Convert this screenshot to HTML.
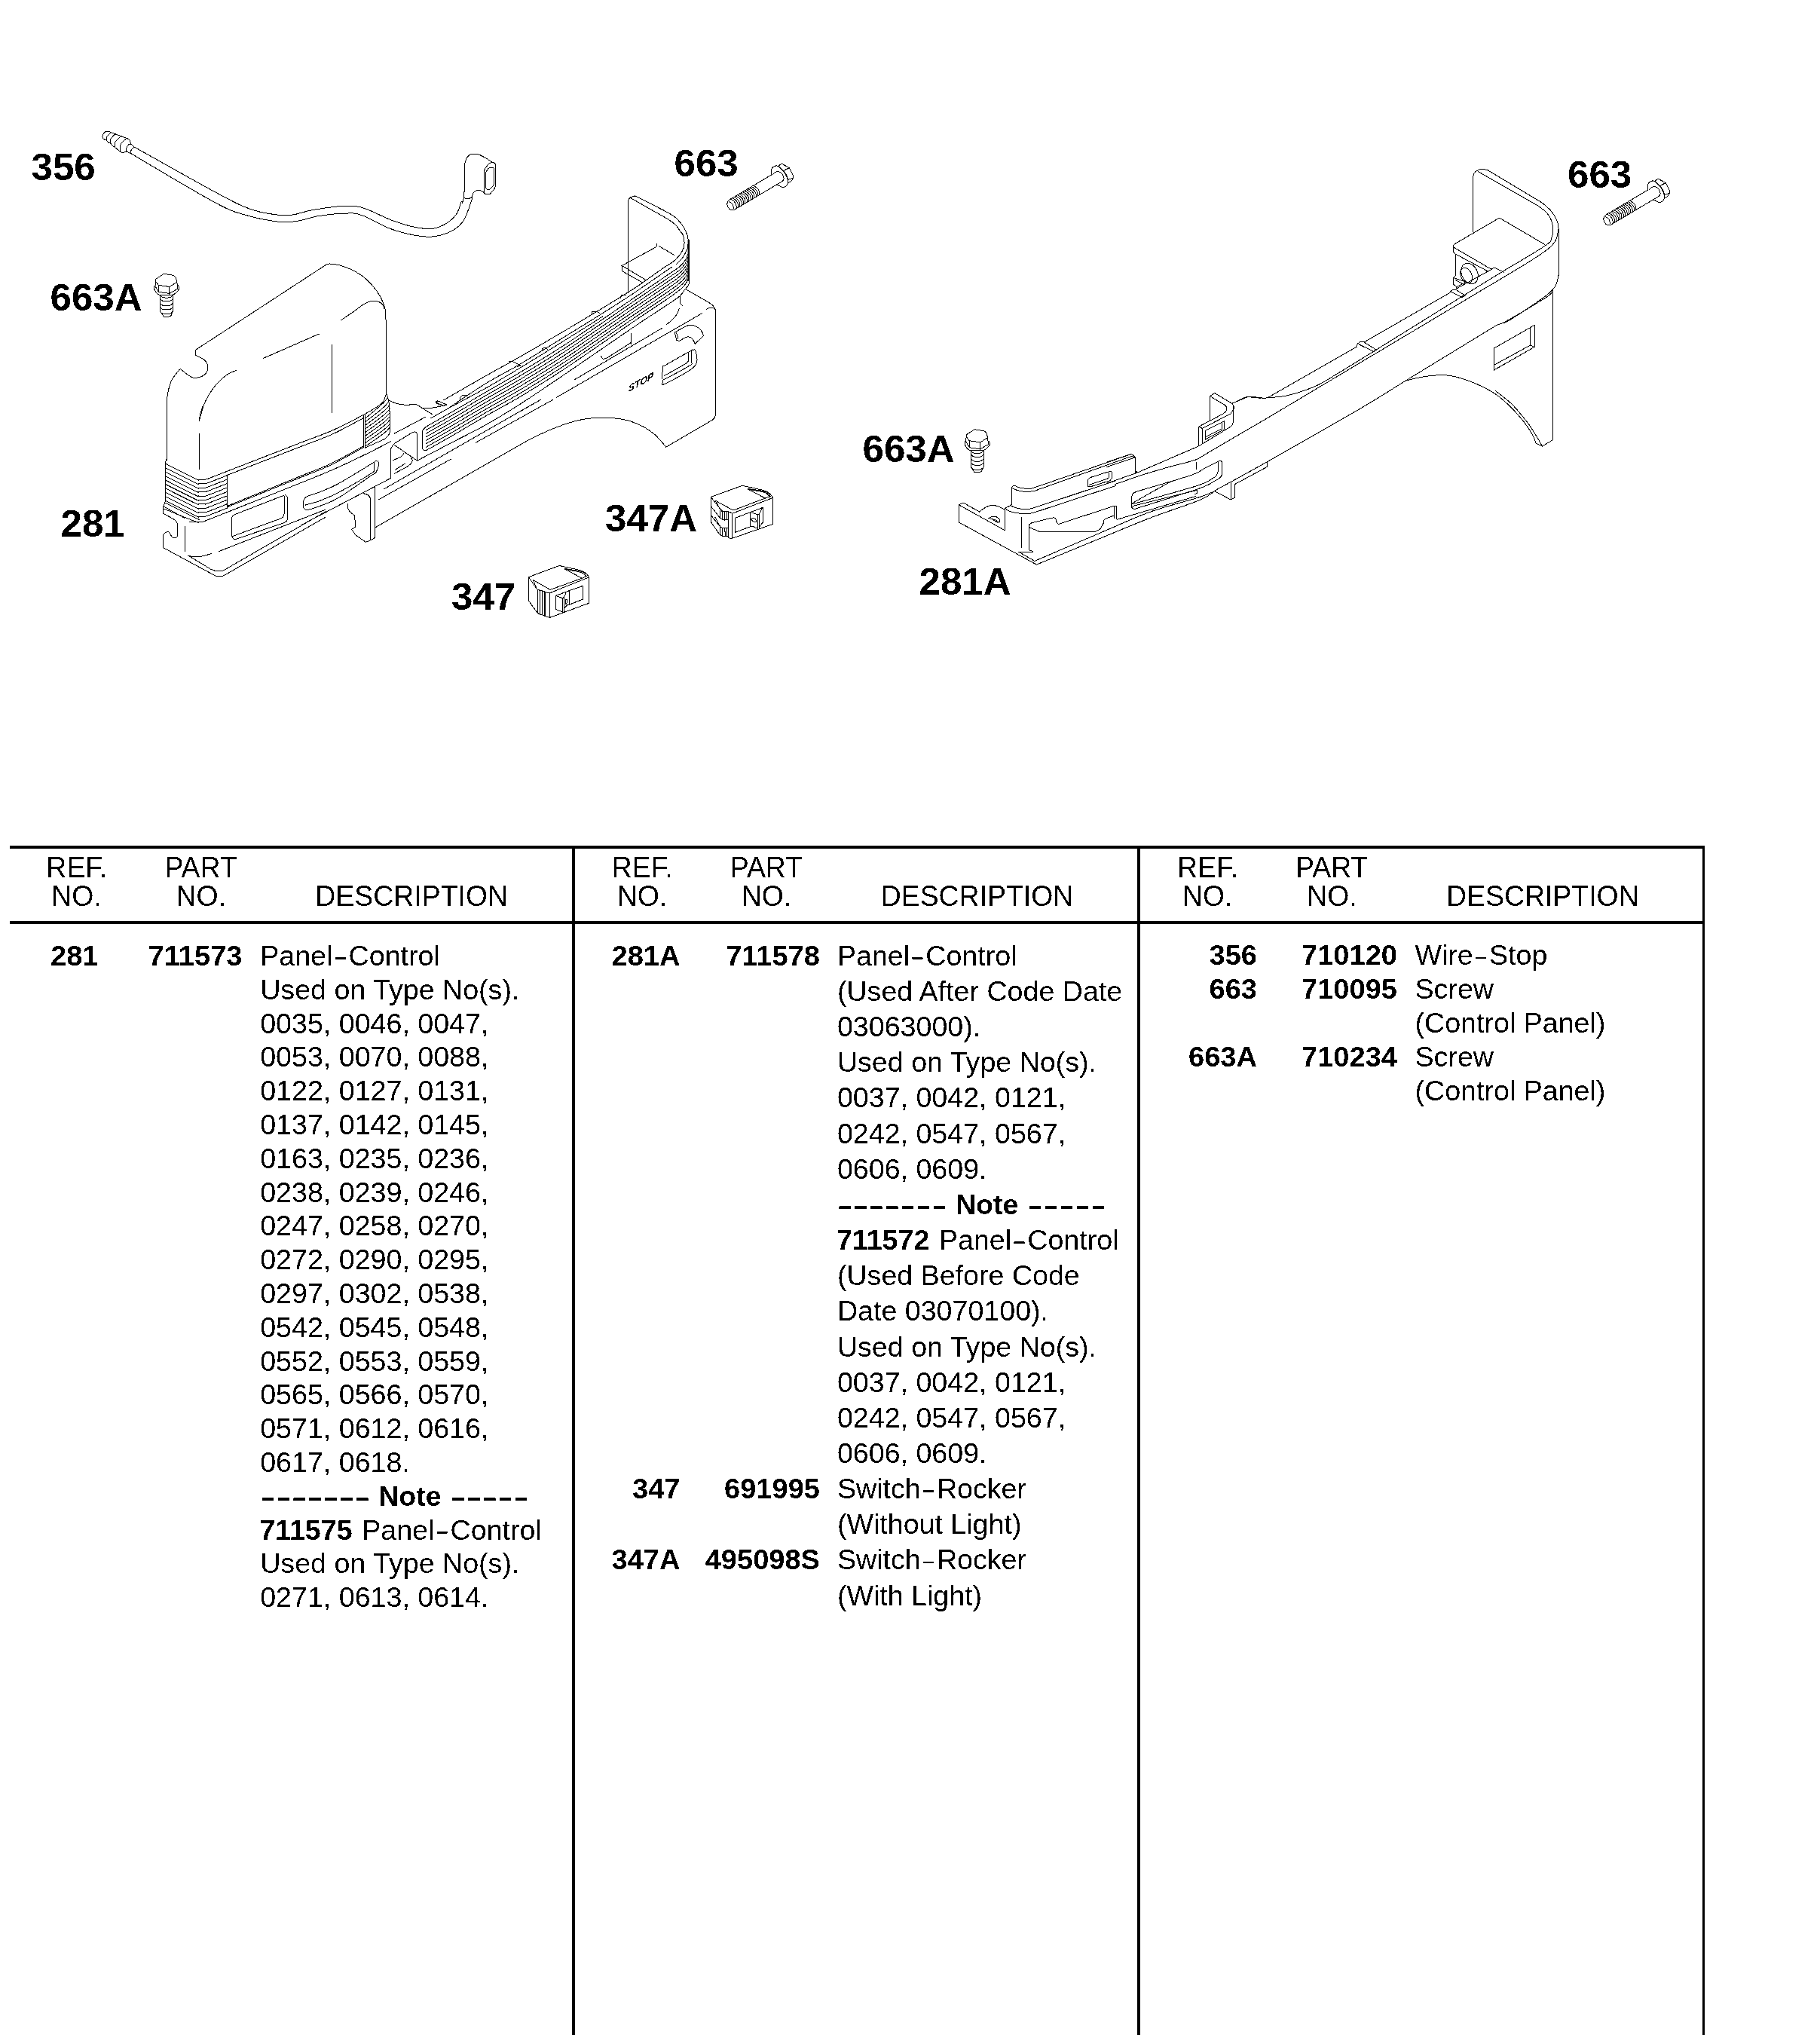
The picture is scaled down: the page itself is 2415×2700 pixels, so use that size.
<!DOCTYPE html>
<html><head><meta charset="utf-8"><title>Parts</title>
<style>
html,body{margin:0;padding:0;background:#fff;}
body{width:2415px;height:2700px;overflow:hidden;font-family:"Liberation Sans",sans-serif;}
svg{display:block;position:absolute;left:0;top:0;}
text{font-family:"Liberation Sans",sans-serif;}
.d{fill:none;stroke:#000;stroke-width:1;stroke-linecap:square;stroke-linejoin:miter;shape-rendering:crispEdges;}
.w{fill:#fff;stroke:#000;stroke-width:1.3;stroke-linecap:round;stroke-linejoin:round;}
</style></head><body>
<svg width="2415" height="2700" viewBox="0 0 2415 2700">
<defs><filter id="bw" filterUnits="userSpaceOnUse" x="0" y="0" width="2415" height="2700" color-interpolation-filters="sRGB"><feComponentTransfer><feFuncA type="discrete" tableValues="0 1"/></feComponentTransfer></filter></defs>
<rect width="2415" height="2700" fill="#fff"/>
<g>
<path class="d" d="M259.2 464.5 L259.2 471.2"/>
<path class="d" d="M259.2 464.5 L428.8 353.8"/>
<path class="d" d="M428.8 353.8 C430.2 353.1 432.3 349.8 437.5 350 C442.7 350.2 452.5 352.1 460 355 C467.5 357.9 475.8 362.3 482.5 367.5 C489.2 372.7 495.6 380.4 500 386.2 C504.4 392.1 506.8 397.3 508.8 402.5 C510.7 407.7 511.1 406.2 511.8 417.5 C512.4 428.8 512.4 452.5 512.5 470 C512.6 487.5 512.5 513.8 512.5 522.5"/>
<path class="d" d="M453 424.5 C455.6 422.7 463.8 417.2 468.8 413.8 C473.7 410.3 478.1 406.2 482.5 403.8 C486.9 401.3 491 399.5 495 399.2 C499 399 503.8 400.8 506.2 402.5 C508.8 404.2 509.4 408.3 510 409.5"/>
<path class="d" d="M349.2 475.5 L423 443.2"/>
<path class="d" d="M440.5 457 L440.5 547.5"/>
<path class="d" d="M259.2 471.2 C261.2 472.3 268.5 475 271.2 477.5 C274 480 275.5 483.1 275.8 486.2 C276 489.4 274.9 493.8 272.5 496.2 C270.1 498.8 264.6 500.7 261.2 501.2 C257.9 501.8 256 501.4 252.5 499.5 C249 497.6 242.1 491.6 240 490"/>
<path class="d" d="M240 490 C239.6 490.2 239.6 488.8 237.5 491.2 C235.4 493.8 230 499.8 227.5 505 C225 510.2 223.5 517.1 222.5 522.5 C221.5 527.9 221.5 531.2 221.2 537.5 C221 543.8 221.2 556.2 221.2 560"/>
<path class="d" d="M221.3 560 L221.3 610"/>
<path class="d" d="M313.8 491.2 C311.5 492.4 304.8 494.5 300 498 C295.2 501.5 289.6 506.8 285 512.5 C280.4 518.2 275.9 525 272.5 532.5 C269.1 540 265.8 553.3 264.5 557.5"/>
<path class="d" d="M268.8 540 C268.2 541.7 266.2 546.9 265.5 550 C264.8 553.1 264.7 557.3 264.5 558.8"/>
<path class="d" d="M264.5 575 L264.5 622.5"/>
<path class="d" d="M221.2 610 C221 610.3 220.2 607.3 220 611.8 C219.7 616.4 219.8 629 219.7 637.4 C219.7 645.8 219.9 657.5 219.7 662.4 C219.6 667.2 219.2 665.2 218.7 666.7 C218.2 668.3 217.2 670.9 216.8 671.7"/>
<path class="d" d="M220.6 615.6 C227.1 618.9 252.7 632.1 259.9 635.5 C267.1 639 261.8 636.2 263.6 636.3 C265.5 636.4 269.2 636.4 271.1 636.3 C273 636.2 274.2 635.8 274.8 635.7"/>
<path class="d" d="M220 621 C226.6 624.3 252.6 637.5 259.9 641 C267.2 644.4 261.8 641.6 263.6 641.7 C265.5 641.8 269.2 641.8 271.1 641.7 C273 641.6 269.9 642.9 274.8 641.1 C279.8 639.3 296.7 632.6 301 630.9"/>
<path class="d" d="M220 626.4 C226.6 629.8 252.6 642.9 259.9 646.4 C267.2 649.8 261.8 647 263.6 647.1 C265.5 647.3 269.2 647.3 271.1 647.1 C273 647 269.9 648.3 274.8 646.5 C279.8 644.7 296.7 638 301 636.3"/>
<path class="d" d="M220 631.9 C226.6 635.2 252.6 648.4 259.9 651.8 C267.2 655.3 261.8 652.4 263.6 652.6 C265.5 652.7 269.2 652.7 271.1 652.6 C273 652.5 269.9 653.8 274.8 651.9 C279.8 650.1 296.7 643.4 301 641.7"/>
<path class="d" d="M220 637.3 C226.6 640.6 252.6 653.8 259.9 657.2 C267.2 660.7 261.8 657.9 263.6 658 C265.5 658.1 269.2 658.1 271.1 658 C273 657.9 269.9 659.2 274.8 657.4 C279.8 655.6 296.7 648.9 301 647.1"/>
<path class="d" d="M220 642.7 C226.6 646 252.6 659.2 259.9 662.7 C267.2 666.1 261.8 663.3 263.6 663.4 C265.5 663.5 269.2 663.5 271.1 663.4 C273 663.3 269.9 664.6 274.8 662.8 C279.8 661 296.7 654.3 301 652.6"/>
<path class="d" d="M220 648.1 C226.6 651.5 252.6 664.6 259.9 668.1 C267.2 671.6 261.8 668.7 263.6 668.8 C265.5 669 269.2 669 271.1 668.8 C273 668.7 269.9 670 274.8 668.2 C279.8 666.4 296.7 659.7 301 658"/>
<path class="d" d="M220 653.6 C226.6 656.9 252.6 670.1 259.9 673.5 C267.2 677 261.8 674.1 263.6 674.3 C265.5 674.4 269.2 674.4 271.1 674.3 C273 674.2 269.9 675.5 274.8 673.7 C279.8 671.8 296.7 665.1 301 663.4"/>
<path class="d" d="M220 659 C226.6 662.3 252.6 675.5 259.9 679 C267.2 682.4 261.8 679.6 263.6 679.7 C265.5 679.8 269.2 679.8 271.1 679.7 C273 679.6 269.9 680.9 274.8 679.1 C279.8 677.3 296.7 670.6 301 668.8"/>
<path class="d" d="M220 664.4 C226.6 667.7 252.6 680.9 259.9 684.4 C267.2 687.8 261.8 685 263.6 685.1 C265.5 685.2 269.2 685.2 271.1 685.1 C273 685 269.9 686.3 274.8 684.5 C279.8 682.7 296.7 676 301 674.3"/>
<path class="d" d="M218.7 666.7 C225.6 670.2 252.4 683.6 259.9 687.3 C267.4 691 263 688.6 263.6 688.8"/>
<path class="d" d="M216.8 671.7 L244.9 687.3"/>
<path class="d" d="M216.8 674.8 C223.8 677.6 250.8 688.7 258.6 691.7 C266.4 694.6 261.8 692.5 263.6 692.5 C265.5 692.6 268.8 692.1 269.9 692"/>
<path class="d" d="M251.1 692.3 L267.4 692.3"/>
<path class="d" d="M301 630.6 L301 673"/>
<path class="d" d="M216.8 671.7 L216.2 681.1"/>
<path class="d" d="M216.2 681.1 C218.5 682.3 226.9 686.6 229.9 688.6 C233 690.5 233.8 691 234.7 692.9 C235.6 694.8 235.2 696.8 235.3 699.8 C235.4 702.8 235.6 708.7 235.3 711 C235 713.3 234.5 713.2 233.4 713.5 C232.3 713.8 230.3 714.2 228.7 712.9 C227.1 711.6 225.4 706.7 223.7 705.8 C222 704.8 219.9 706.4 218.7 707.3 C217.5 708.1 217 707.8 216.6 711 C216.2 714.2 216.5 724 216.5 726.6"/>
<path class="d" d="M216.5 726.6 L282.3 762.1"/>
<path class="d" d="M282.3 762.1 C283.2 762.5 285.2 764 287.3 764.4 C289.4 764.8 292.7 764.8 294.8 764.4 C296.9 764 299 762.5 299.8 762.1"/>
<path class="d" d="M299.8 762.1 L432 686.1"/>
<path class="d" d="M249.9 737.2 L279.8 755.3"/>
<path class="d" d="M279.8 755.3 C280.9 755.6 283.7 757.1 286.1 757.4 C288.5 757.8 292.1 757.7 294.2 757.4 C296.3 757.1 297.8 755.9 298.5 755.7"/>
<path class="d" d="M298.5 755.7 L432 678.8"/>
<path class="d" d="M245.3 698.5 L245.3 731.6"/>
<path class="d" d="M249.9 737.2 C251.1 737.4 254.5 738.5 257.4 738.7 C260.3 738.9 263.5 738.9 267.4 738.2 C271.2 737.5 278.3 735.1 280.5 734.5"/>
<path class="d" d="M290.4 731.6 L432 676.1"/>
<path class="d" d="M307.5 688.2 Q307.5 684.2 311.3 682.7 L376.2 657.5 Q377.1 657.1 377.1 658.1 L377.1 681.3 Q377.1 686.3 372.4 688 L308.9 711.4 Q307.5 711.9 307.5 710.4 Z"/>
<path class="d" d="M378.4 656.8 L379.9 657.7 Q381.5 658.6 381.5 660.4 L381.5 687 Q381.5 692 376.8 693.7 L313.2 715.3 Q310.4 716.2 308.9 713.7 L307.3 711"/>
<path class="d" d="M403 673.8 C402.9 672.7 402.4 669.5 402.5 667.5 C402.6 665.5 402.9 663.5 403.8 662 C404.6 660.5 406.9 659.1 407.5 658.5"/>
<path class="d" d="M407.5 658.5 C410.4 657.5 417.9 655.4 425 652.5 C432.1 649.6 437.9 647.9 450 641.2 C462.1 634.6 489.6 617.3 497.5 612.5"/>
<path class="d" d="M497.5 612.5 C498 612.2 500 610.8 500.8 611 C501.5 611.2 502 612.5 502.2 613.8 C502.5 615 502.6 616.5 502 618.8 C501.4 621 500.1 625.1 498.8 627 C497.4 628.9 494.6 629.5 493.8 630"/>
<path class="d" d="M493.8 630 C486.5 635 461.5 653.1 450 660 C438.5 666.9 432.1 668.5 425 671.2 C417.9 674 411.2 676.1 407.5 676.5 C403.8 676.9 403.8 674.2 403 673.8"/>
<path class="d" d="M496.2 614.5 C496.2 615.8 496.9 620.2 496.2 622.5 C495.6 624.8 500.2 623.2 492.5 628.2 C484.8 633.3 461.2 647 450 653 C438.8 659 432.4 661.4 425 664.2 C417.6 667.1 408.8 669 405.5 670"/>
<path class="d" d="M482.4 550.3 L482.4 592.9"/>
<path class="d" d="M484.4 550.5 L484.4 594.1"/>
<path class="d" d="M512.5 522.1 C512.8 523 513.8 525.2 514.4 527.2 C515 529.2 515.5 530.2 516 534.1 C516.5 538 517 544.4 517.3 550.5 C517.5 556.7 517.8 566.3 517.5 570.8 C517.3 575.2 516.9 575.1 515.6 577.1 C514.4 579.1 510.9 581.8 509.9 582.8"/>
<path class="d" d="M484.4 555.2 C486.7 553.4 493.9 547.6 497.9 544.2 C501.9 540.9 505.6 537.7 508.4 535 C511.1 532.3 513.4 529.2 514.4 528.1"/>
<path class="d" d="M484.4 559.8 C486.8 558 494.3 552.4 498.5 549.1 C502.7 545.8 506.6 542.6 509.5 540 C512.4 537.3 514.7 534.3 515.8 533.1"/>
<path class="d" d="M484.4 564.5 C486.8 562.7 494.6 557.1 498.9 553.8 C503.2 550.5 507.2 547.4 510.2 544.7 C513.2 542.1 515.6 539.1 516.6 537.9"/>
<path class="d" d="M484.4 569.1 C486.9 567.3 494.8 561.8 499.1 558.5 C503.5 555.2 507.6 552.1 510.6 549.5 C513.6 546.9 516.1 543.8 517.1 542.7"/>
<path class="d" d="M484.4 573.7 C486.9 572 494.9 566.4 499.3 563.2 C503.7 560 507.8 556.9 510.8 554.3 C513.8 551.7 516.3 548.6 517.4 547.5"/>
<path class="d" d="M484.4 578.4 C486.9 576.6 494.9 571.1 499.3 567.9 C503.7 564.7 507.9 561.6 510.9 559 C513.9 556.4 516.4 553.4 517.5 552.3"/>
<path class="d" d="M484.4 583 C486.9 581.3 494.9 575.8 499.3 572.6 C503.7 569.4 507.9 566.4 510.9 563.8 C513.9 561.2 516.4 558.2 517.5 557.1"/>
<path class="d" d="M484.4 587.7 C486.9 586 494.9 580.6 499.3 577.5 C503.7 574.3 507.9 571.3 510.9 568.8 C513.9 566.2 516.4 563.3 517.5 562.2"/>
<path class="d" d="M484.4 592.3 C486.9 590.7 494.7 585.5 499.1 582.4 C503.4 579.4 507.5 576.5 510.5 574.1 C513.5 571.6 515.9 568.7 517 567.6"/>
<path class="d" d="M274.8 635.7 C279.2 634 280.1 633.5 301 625.4 C321.9 617.3 376.6 596.1 400 587 C423.4 577.9 428 576.9 441.7 570.8 C455.4 564.7 471.9 556 482.4 550.3 C492.9 544.6 500.3 540 504.9 536.6 C509.5 533.2 508.7 532.1 510 529.7 C511.3 527.3 512.1 523.4 512.5 522.1"/>
<path class="d" d="M301 630.6 C317.5 624.2 376.6 601.3 400 592.2 C423.4 583.1 428 582.1 441.7 575.8 C455.4 569.5 475.6 558.1 482.4 554.6"/>
<path class="d" d="M301 673 C317.5 666.3 377.2 642.2 400 633 C422.8 623.8 424.2 624.1 437.9 617.5 C451.6 610.9 475 597.5 482.4 593.5"/>
<path class="d" d="M302.3 671.1 C318.6 664.5 377.4 640.4 400 631.2 C422.6 622 424.2 622.2 437.9 615.7 C451.6 609.2 475 595.9 482.4 591.9"/>
<path class="d" d="M484.4 594.1 L509.9 582.8"/>
<path class="d" d="M269.9 692 C275.1 690 279.3 688.4 301 679.8 C322.7 671.2 376.3 649.8 400 640.3 C423.7 630.8 428.2 629.1 443 622.6 C457.8 616.1 476 607.2 488.5 601.1 C501 595 513.2 588.4 518.2 585.9"/>
<path class="d" d="M400 696.5 L518.2 634.6"/>
<path class="d" d="M518.2 634.6 C518.2 628.8 517.8 606.8 518.2 599.8 C518.5 592.9 519.2 594.8 520.1 592.9 C520.9 591 522.7 589.2 523.2 588.5"/>
<path class="d" d="M523.2 588.5 L547.9 573.3"/>
<path class="d" d="M547.9 573.3 C548.4 573.3 550.1 572.7 551 573 C551.9 573.4 552.7 574.3 553.2 575.2 C553.6 576.1 553.5 577.8 553.5 578.4"/>
<path class="d" d="M553.5 578.4 L553.5 611.2"/>
<path class="d" d="M523.2 590.4 L553.5 611.2"/>
<path class="d" d="M522 610.6 C523.7 609.7 530.4 607.1 532.7 605.5 C535 603.9 535.3 601.8 535.9 601.1"/>
<path class="d" d="M524.5 623.2 L537.7 615"/>
<path class="d" d="M523.2 628.3 C526.5 626.5 538.8 620.4 542.8 617.5 C546.8 614.7 546.8 612.9 547.2 611.2 C547.6 609.5 545.6 608.1 545.3 607.4"/>
<path class="d" d="M523.2 575.2 L564.9 553.1"/>
<path class="d" d="M515.6 531 C517.4 531.7 522.5 534.3 526.4 535.4 C530.3 536.4 534.8 537.1 539 537.3 C543.2 537.5 548.1 535.9 551.6 536.6 C555.2 537.4 559 540.9 560.5 541.7"/>
<path class="d" d="M560.5 541.7 C562.6 541.6 568.7 541.6 573.1 541.1 C577.6 540.5 583.9 539.2 587 538.5 C590.2 537.9 591.2 537.5 592.1 537.3"/>
<path class="d" d="M560.5 541.7 L573.1 549.3"/>
<path class="d" d="M592.1 537.3 C590.4 536.4 584.3 532.9 582 532.2 C579.7 531.6 578 532.5 578.2 533.5 C578.4 534.4 582.4 537.2 583.2 537.9"/>
<path class="d" d="M497.3 647.2 L497.3 680"/>
<path class="d" d="M482.8 654.8 C483.7 655.1 487 655.3 488.5 656.7 C489.9 658.1 491.1 659.1 491.6 663 C492.1 666.9 491.6 677.1 491.6 680"/>
<path class="d" d="M497.9 646.9 L497.9 713.2"/>
<path class="d" d="M491.5 668.4 L491.5 716.9"/>
<path class="d" d="M483.5 655.3 C484.4 655.6 487.4 656.1 488.7 657.1 C490.1 658.2 491.1 659.9 491.5 661.8 C492 663.7 491.5 667.3 491.5 668.4"/>
<path class="d" d="M461.5 668.4 C461.5 669.3 460.9 672.1 461.5 674 C462 675.8 463.3 677.8 464.8 679.6 C466.4 681.3 469.8 683.5 470.8 684.2"/>
<path class="d" d="M470.8 684.2 L471.4 699.2 L466.7 702.4 L471.4 709.4 L485.4 719.3 L491.5 716.9 L497.9 713.2"/>
<path class="d" d="M883.8 593.1 C881.4 590.4 874.2 581.4 869.2 576.9 C864.2 572.4 859.4 569.3 853.8 566.2 C848.2 563.1 841.5 560.4 835.4 558.5 C829.2 556.6 823 555.8 816.9 555.1 C810.8 554.5 804.6 554.6 798.5 554.6 C792.4 554.6 786.2 554.6 780 555.4 C773.8 556.2 768.4 557.3 761.5 559.2 C754.6 561.1 746.2 564 738.5 566.9 C730.8 569.8 721.8 573.9 715.4 576.9 C709 579.9 702.6 583.3 700 584.6"/>
<path class="d" d="M700 584.6 L497.8 700"/>
<path class="d" d="M509.3 649 L717.4 530.3"/>
<path class="d" d="M631.6 587.1 L733.8 530.3"/>
<path class="d" d="M738.5 527.2 L931.5 415.7"/>
<path class="d" d="M762.3 503.8 L878.5 435.4"/>
<path class="d" d="M502.3 663 L597.9 609.4"/>
<path class="d" d="M553.5 611.2 C561.2 607.2 584.2 595.2 599.5 587.2 C614.8 579.2 629.9 572 645 563.5 C660.1 555 672.5 547.5 690 536.3 C707.5 525.1 725 513.2 750 496.2 C775 479.2 818.8 448.9 840 434.5 C861.2 420.1 868 416 877.1 410 C886.2 404 890.2 401.4 894.4 398.5 C898.6 395.6 899.8 395.1 902.3 392.6 C904.8 390.1 907.6 385.8 909.2 383.7 C910.9 381.6 911.4 381.4 912.2 380.2 C913 379 913.8 377.5 914.2 376.3 C914.7 375.1 914.8 373.4 914.9 372.8"/>
<path class="d" d="M588.7 530.8 C598.1 525.4 628.1 508.1 645 498.5 C661.9 488.9 672.5 483.4 690 473.4 C707.5 463.4 731.7 449.2 750 438.4 C768.3 427.6 785 417.6 800 408.5 C815 399.4 830.5 389.8 840 383.7 C849.5 377.6 850.7 376.4 857.3 371.8 C863.9 367.2 873.6 360.1 879.6 356 C885.6 351.9 889.9 349.8 893.4 347.1 C896.9 344.4 899.1 341.6 900.8 339.7 C902.5 337.8 902.9 337.2 903.8 335.7 C904.7 334.2 905.6 332.2 906.3 330.8 C907 329.4 907.5 328.9 907.8 327.3 C908.1 325.7 908 323 908 321 C908 319 908 317.2 907.5 315.4 C907 313.6 906 311.3 905.3 310 C904.6 308.7 904.8 309.7 903.3 307.7 C901.8 305.7 898.8 300.8 896 298 C893.2 295.2 888 292 886.4 290.8"/>
<path class="d" d="M886.4 290.8 L837.4 263"/>
<path class="d" d="M592 543.5 C600.8 537.7 628.7 518.6 645 508.6 C661.3 498.6 672.5 493.6 690 483.2 C707.5 472.8 731.7 457.6 750 446.3 C768.3 435 785 424.8 800 415.3 C815 405.9 824.8 399.8 840 389.6 C855.2 379.4 882.8 360.2 891.4 354.3"/>
<path class="d" d="M578.5 532.2 L582 532 L592.5 537 L589 538.5 L580 534.5 L578.5 532.2"/>
<path class="d" d="M675.5 479.5 L679 479 L690.5 485 L687 486.5"/>
<path class="d" d="M785.1 416 L785.1 413.5 L792 413.2 L796 415.8"/>
<path class="d" d="M823.5 395.8 L824.3 391.5 L830 391.3"/>
<path class="d" d="M610.4 531.5 L610.8 527.5 L613 524.8 L618 524.8"/>
<path class="d" d="M719 465.5 L719.5 463 L721.5 461.6 L724.5 461.6 L726.5 463.2"/>
<path class="d" d="M572.1 554.6 C576.7 552 587.4 545.9 599.5 539.3 C611.6 532.7 629.9 523.3 645 514.8 C660.1 506.3 672.5 498.8 690 488.2 C707.5 477.6 731.7 462.6 750 451.2 C768.3 439.8 791.7 424.9 800 419.7"/>
<path class="d" d="M564.9 566.5 C570.7 563.2 586.1 554.4 599.5 546.7 C612.9 539 629.9 528.9 645 520.1 C660.1 511.3 672.5 504.6 690 494.1 C707.5 483.6 725 473.4 750 457.1 C775 440.8 818.3 410.8 840 396.1 C861.7 381.4 869.9 375.7 880 368.8 C890.1 361.9 896.1 358.2 900.8 354.5 C905.5 350.8 906.5 348.7 908.2 346.6 C909.9 344.5 910.5 343.2 911.2 341.7 C911.9 340.2 912.3 338.4 912.5 337.7"/>
<path class="d" d="M565 570.9 C570.7 567.7 586.2 559 599.5 551.2 C612.8 543.5 629.9 533.4 645 524.6 C660.1 515.9 672.5 509.2 690 498.7 C707.5 488.2 725 478 750 461.6 C775 445.3 818.3 415.3 840 400.5 C861.7 385.8 870 380.2 880 373.3 C890 366.5 895.6 363 900.3 359.4 C904.9 355.7 905.9 353.8 907.7 351.7 C909.5 349.5 910.3 348.1 911.1 346.5 C911.9 344.9 912.4 342.8 912.7 342.1"/>
<path class="d" d="M565.1 575.4 C570.8 572.1 586.2 563.5 599.5 555.8 C612.8 548 629.9 537.9 645 529.1 C660.1 520.4 672.5 513.8 690 503.4 C707.5 492.9 725 482.6 750 466.2 C775 449.8 818.3 419.7 840 405 C861.7 390.3 870 384.6 880 377.8 C890 371 895.2 367.7 899.7 364.2 C904.3 360.7 905.4 358.9 907.3 356.7 C909.2 354.6 910.1 353.1 911 351.4 C911.9 349.6 912.5 347.3 912.8 346.5"/>
<path class="d" d="M565.2 579.8 C570.9 576.6 586.2 568 599.5 560.3 C612.8 552.6 629.9 542.4 645 533.6 C660.1 524.9 672.5 518.5 690 508 C707.5 497.5 725 487.2 750 470.7 C775 454.3 818.3 424.2 840 409.4 C861.7 394.7 870.1 389.1 880 382.3 C889.9 375.6 894.7 372.5 899.2 369.1 C903.6 365.6 904.9 363.9 906.8 361.8 C908.8 359.6 909.9 358 910.9 356.2 C911.9 354.4 912.7 351.7 913 350.9"/>
<path class="d" d="M565.2 584.3 C571 581 586.2 572.5 599.5 564.8 C612.8 557.1 629.9 546.9 645 538.2 C660.1 529.5 672.5 523.1 690 512.6 C707.5 502.1 725 491.7 750 475.3 C775 458.8 818.3 428.6 840 413.9 C861.7 399.1 870.2 393.5 880 386.9 C889.8 380.2 894.2 377.3 898.6 373.9 C903 370.6 904.3 369 906.4 366.8 C908.4 364.7 909.7 362.9 910.8 361 C911.9 359.1 912.8 356.2 913.2 355.2"/>
<path class="d" d="M565.3 588.7 C571 585.5 586.2 577 599.5 569.3 C612.8 561.7 629.9 551.4 645 542.7 C660.1 534 672.5 527.7 690 517.2 C707.5 506.8 725 496.3 750 479.8 C775 463.3 818.3 433.1 840 418.3 C861.7 403.6 870.3 398 880 391.4 C889.7 384.8 893.8 382 898.1 378.8 C902.4 375.5 903.8 374 905.9 371.9 C908 369.7 909.5 367.9 910.7 365.8 C911.9 363.8 912.9 360.7 913.4 359.6"/>
<path class="d" d="M565.4 593.2 C571.1 589.9 586.2 581.5 599.5 573.9 C612.8 566.2 629.9 555.9 645 547.2 C660.1 538.5 672.5 532.3 690 521.9 C707.5 511.4 725 500.9 750 484.4 C775 467.8 818.3 437.5 840 422.8 C861.7 408 870.4 402.4 880 395.9 C889.6 389.4 893.3 386.8 897.5 383.6 C901.8 380.5 903.3 379.1 905.5 376.9 C907.6 374.8 909.3 372.8 910.6 370.7 C911.9 368.5 913 365.1 913.5 364"/>
<path class="d" d="M565.5 597.6 C571.2 594.4 586.2 586 599.5 578.4 C612.8 570.8 629.9 560.4 645 551.7 C660.1 543.1 672.5 537 690 526.5 C707.5 516 725 505.4 750 488.9 C775 472.3 818.3 441.9 840 427.2 C861.7 412.4 870.5 406.8 880 400.4 C889.5 393.9 892.8 391.6 897 388.5 C901.2 385.4 902.8 384.2 905 382 C907.2 379.8 909 377.8 910.5 375.5 C912 373.2 913.2 369.6 913.7 368.4"/>
<path class="d" d="M564.9 566.5 L561.4 570 L560.2 572.4 L560.2 594.7 L562.4 597.6 L565.5 597.6"/>
<rect x="912.6" y="318" width="2.4" height="55" fill="#000"/>
<path class="d" d="M911.2 310 C911.5 310.8 912.4 313.3 912.7 315 C913 316.7 913.2 317.9 913.2 320 C913.2 322.1 913 325.3 912.7 327.3 C912.4 329.3 912.1 329.7 911.2 331.8 C910.3 333.9 908.4 337.7 907.3 339.7 C906.1 341.7 906 341.8 904.3 343.6 C902.6 345.5 898.3 349.6 897.1 350.8"/>
<path class="d" d="M833.4 267.8 L833.4 388.7"/>
<path class="d" d="M833.4 267.8 C833.6 267.2 833.7 265.2 834.4 264.2 C835.1 263.1 836 262.2 837.4 261.5 C838.8 260.8 841.9 260.2 842.9 259.9"/>
<path class="d" d="M842.9 259.9 C850.5 263.9 879.1 278 888.8 283.5 C898.5 289.1 897.7 290 900.9 293.2 C904.1 296.4 906.4 300 908.1 302.9 C909.8 305.7 910.6 308.9 911.1 310.1 C911.7 311.3 911.2 310 911.2 310"/>
<path class="d" d="M837.4 263 L886.4 290.8"/>
<path class="d" d="M857.4 371.8 L825.3 352.4 L870.1 328"/>
<path class="d" d="M870.1 328 C870.3 327.7 871.2 326.8 871.5 326.1 C871.8 325.3 871.6 323.8 871.6 323.4"/>
<path class="d" d="M825.3 352.4 L825.3 359.7 L852.5 374.8"/>
<path class="d" d="M874.9 326.8 L894.8 338.5"/>
<path class="d" d="M909.9 383.8 L940.8 401.4"/>
<path class="d" d="M940.8 401.4 C941.7 402.1 944.8 404.1 946.2 405.6 C947.6 407.1 948.4 408.8 949 410.4 C949.6 412 949.7 414.5 949.8 415.3"/>
<path class="d" d="M949.5 415 L949.5 549.2"/>
<path class="d" d="M949.5 549.2 C949.3 550 949.3 552.4 948.5 553.8 C947.7 555.2 945.2 557.1 944.6 557.7"/>
<path class="d" d="M944.6 557.7 L883.8 593.1"/>
<path class="d" d="M937.1 410.4 C938.1 410 941.3 408.1 943.2 408 C945.1 407.9 947.7 409.5 948.6 409.8"/>
<path class="d" d="M902.1 393.5 L902.1 402 L905.7 405.6"/>
<path class="d" d="M901.5 409.2 C900.6 411 899 416.5 896 420.1 C893.1 423.7 886 429.2 884 431"/>
<path class="d" d="M837.4 443.1 L837.4 456.4"/>
<path class="d" d="M895.4 440.8 C898.5 439.2 909.5 432.9 913.8 431.5 C918.2 430.1 919 431.4 921.5 432.3 C924.1 433.2 927.2 434.7 929.2 436.9 C931.3 439.1 933.1 444 933.8 445.4"/>
<path class="d" d="M933.8 445.4 L922.3 456.2"/>
<path class="d" d="M922.3 456.2 C921.7 455 920.1 450.8 918.5 449.2 C916.8 447.7 915.1 446.4 912.3 446.9 C909.5 447.4 903.3 451.4 901.5 452.3"/>
<path class="d" d="M901.5 452.3 L897.7 451.5 L895.4 440.8"/>
<path class="d" d="M897.7 441.5 L900 450"/>
<path class="d" d="M880 486.2 C885.9 482.8 908.7 469.8 915.4 466.2 C922.1 462.5 918.7 464.3 920 464.3 C921.3 464.3 922.8 462.5 923.1 466.2 C923.3 469.8 928.3 479 921.5 486.2 C914.7 493.3 889.4 505.9 882.3 509.2 C875.3 512.6 879.7 509.7 879.2 506.2 C878.7 502.6 879.1 491 879.2 487.7 C879.4 484.4 879.9 486.4 880 486.2"/>
<path class="d" d="M913.1 467.7 C913.1 469.2 913.6 474.5 913.1 476.9 C912.6 479.4 915.3 478.7 910 482.3 C904.7 485.9 886.3 495.8 881.5 498.5"/>
<path class="d" d="M917.7 466.2 C917.7 468.5 918.2 476.8 917.7 480 C917.2 483.2 920.8 481.4 914.6 485.4 C908.5 489.4 886.4 500.8 880.8 503.8"/>
<path class="d" d="M837.7 442.3 L837.7 453.5"/>
<path class="d" d="M837.7 453.5 L836.2 455.4"/>
<path class="d" d="M836.2 455.4 L804.6 475.4"/>
<path class="d" d="M804.6 475.4 C803.8 475.5 801.2 476.7 800 476.2 C798.8 475.6 797.7 472.9 797.2 472.3"/>
<path class="d" d="M178.1 195 C197.1 205.6 266.1 244.6 292.3 258.5 C318.5 272.4 322.1 273.9 335.4 278.5 C348.7 283 363.1 284.5 372.3 285.5 C381.5 286.6 383.6 285.8 390.8 284.6 C397.9 283.4 404.1 280.4 415.4 278.5 C426.7 276.6 447.2 273.6 458.5 273.2 C469.7 272.9 472.8 273.1 483.1 276.3 C493.3 279.5 508.7 288.1 520 292.3 C531.3 296.5 541.5 299.7 550.8 301.5 C560 303.3 568.2 304.1 575.4 303.1 C582.6 302.1 588.7 298.7 593.8 295.4 C599 292.1 603.1 287.7 606.2 283.1 C609.2 278.5 611.1 269.9 612.3 267.7 C613.5 265.5 613 270 613.4 269.7 C613.7 269.4 614.2 267.1 614.5 265.8 C614.9 264.4 615.4 262.2 615.5 261.4"/>
<path class="d" d="M173.5 203.5 C192.3 214.5 260.2 255.5 286.2 269.2 C312.1 283 314.9 281.9 329.2 286.2 C343.6 290.4 361 293.3 372.3 294.5 C383.6 295.6 388.7 294.2 396.9 292.9 C405.1 291.6 411.3 288.4 421.5 286.8 C431.8 285.1 448.7 283.3 458.5 283.1 C468.2 282.9 470.3 282.2 480 285.5 C489.7 288.9 505.1 298.6 516.9 303.1 C528.7 307.5 541 310.5 550.8 312.3 C560.5 314.1 567.2 314.9 575.4 313.8 C583.6 312.8 593.3 309.7 600 306.2 C606.7 302.6 611.3 298.4 615.4 292.3 C619.4 286.2 622.7 274.1 624.4 269.7 C626.1 265.3 625.2 266.8 625.6 265.8 C625.9 264.7 626.6 264.1 626.7 263.4 C626.9 262.7 626.4 261.8 626.3 261.4"/>
<path class="d" d="M616.5 218.2 L616.5 254 L615.5 254.4 L615.5 261.4 L617.3 263.4 L622.8 263.4 L625.2 262.2 L626.3 261.4"/>
<path class="d" d="M616.5 218.2 C616.7 217.5 617 215.7 617.5 214.3 C618 212.8 618.3 211 619.3 209.5 C620.2 208.1 622.1 206.3 623.2 205.4 C624.2 204.6 625.2 204.5 625.6 204.4"/>
<path class="d" d="M625.6 204.4 L633.4 204.4 L638.5 206.4 L645.6 210.3 L652.7 215 L655 215.4 L657.6 218.2 L657.6 246.5"/>
<path class="d" d="M657.6 246.5 C657.4 247 657 248.4 656.6 249.2 C656.2 250.1 655.6 251.2 655.4 251.6"/>
<path class="d" d="M655.4 251.6 L649.9 257.5 L644.4 257.5 L642.5 256.3"/>
<path class="d" d="M652.7 215.4 C652 215.8 649.4 216.6 648.3 217.4 C647.3 218.2 647 219.3 646.4 220.2 C645.7 221 644.9 221.7 644.4 222.5 C643.9 223.3 643.6 224.1 643.2 224.9 C642.9 225.7 642.6 226.8 642.5 227.2"/>
<path class="d" d="M642.5 227.2 L642.5 256.3"/>
<path class="d" d="M650.3 222.3 L654.6 222.3 L655.6 224.1 L655.6 243.7 L654.4 246.5 L649.5 251.6 L646.4 251.6 L644.4 249.6 L644.4 229.2"/>
<path class="d" d="M644.4 229.2 C644.8 228.5 646.1 226.2 646.8 225.3 C647.4 224.3 647.8 223.8 648.3 223.3 C648.9 222.8 650 222.5 650.3 222.3"/>
<path class="d" d="M626.3 261.4 C626.5 261 626.7 259.7 627.1 258.7 C627.5 257.6 628 256.1 628.7 255.1 C629.4 254.2 630.5 253.7 631.4 253.2 C632.4 252.7 633 252.2 634.2 252.2 C635.4 252.2 637.4 252.8 638.5 253.2 C639.6 253.5 640.2 253.8 640.9 254.4 C641.5 254.9 642.2 256 642.5 256.3"/>
<path class="d" d="M140.2 174.2 L143.5 174.2 L170 184.2 L172.3 186.2 L173.5 191.2"/>
<path class="d" d="M140.2 174.2 C139.7 174.7 138 176.3 137.3 177.3 C136.6 178.3 136.3 179.1 136.2 180 C136 180.9 135.6 181.7 136.2 182.7 C136.7 183.7 138.7 185.3 139.2 185.8"/>
<path class="d" d="M139.2 185.8 L141.2 185.8 L144.2 189.6 L146.2 189.6 L149.2 193.5 L152.3 195.4 L153.8 196.5 L158.8 200.8 L161.5 202.3 L164.6 202.3 L165.8 201.3 L168.5 201.2"/>
<path class="d" d="M146.9 176.3 C146.2 177.1 143.3 179.6 142.3 180.8 C141.3 181.9 141.3 182.2 141.2 183.1 C141 183.9 141.2 185.3 141.2 185.8"/>
<path class="d" d="M151.9 178.5 C151.2 179.4 148.2 182.6 147.3 183.8 C146.4 185.1 146.5 184.7 146.3 185.8 C146.2 186.8 146.3 189.3 146.3 190"/>
<path class="d" d="M159.2 181.5 C158.3 182.6 154.6 186.3 153.5 187.7 C152.3 189 152.5 188.3 152.3 189.6 C152.1 190.9 152.3 194.4 152.3 195.4"/>
<path class="d" d="M166.9 184.6 C166 185.4 162.8 188.1 161.5 189.6 C160.3 191.1 160 191.6 159.6 193.5 C159.3 195.3 159.5 199.6 159.4 200.8"/>
<path class="d" d="M173.5 191.2 C173.1 191.2 171.9 191.1 171.2 191.5 C170.4 192 169.9 192.8 169.2 193.8 C168.6 194.9 167.6 197.1 167.3 198.1 C167 199.1 167.3 199.5 167.5 200 C167.7 200.5 168.3 201 168.5 201.2"/>
<path class="d" d="M173.5 191.2 L175.4 192.3 L178.1 195"/>
<path class="d" d="M168.5 201.2 L170.8 202.7 L173.5 203.5"/>
<path class="d" d="M178.1 195 C177.5 195.6 175.4 197.5 174.6 198.5 C173.8 199.4 173.7 199.9 173.5 200.8 C173.3 201.6 173.5 203 173.5 203.5"/>
<path class="d" d="M206.4 370.5 L217.4 363.3 L229.7 365.3 L232.8 367.4 L234.9 374.3 L224.9 380.5 L210.5 378.4 L206.7 373.6 Z"/>
<path class="d" d="M206.4 370.5 L206 379.8 L210.5 387.3 L224.9 389.4 L235.6 383.2 L234.9 374.3"/>
<path class="d" d="M210.5 378.4 L210.5 387.3"/>
<path class="d" d="M224.9 380.5 L224.9 391.1"/>
<path class="d" d="M205.3 379.1 C205.1 379.4 204.3 380.1 204.3 381.1 C204.3 382.2 204.5 383.7 205.3 385.3 C206.2 386.8 208.2 389.5 209.4 390.4 C210.7 391.4 212.3 391 212.9 391.1"/>
<path class="d" d="M212.9 391.1 L229.4 391.1"/>
<path class="d" d="M229.4 391.1 C230 390.8 231.6 390 232.8 389.1 C234 388.1 235.8 386.5 236.6 385.3 C237.4 384.1 237.7 382.9 237.7 381.8 C237.6 380.8 236.5 379.5 236.3 379.1"/>
<path class="d" d="M212.4 391.1 L212.4 412.8 L217.4 420.4 L222.5 420.4 L226.6 419.3 L229.6 412.8 L229.6 391.1"/>
<path class="d" d="M212.4 391.5 C212.7 391.8 213.4 393 214.3 393.5 C215.1 394.1 215.6 394.7 217.4 394.9 C219.1 395.1 222.9 395.1 224.6 394.9 C226.2 394.7 226.5 394.1 227.3 393.5 C228.2 393 229.2 391.8 229.6 391.5"/>
<path class="d" d="M212.4 396.3 C212.7 396.6 213.4 397.8 214.3 398.3 C215.1 398.9 215.6 399.5 217.4 399.7 C219.1 399.9 222.9 399.9 224.6 399.7 C226.2 399.5 226.5 398.9 227.3 398.3 C228.2 397.8 229.2 396.6 229.6 396.3"/>
<path class="d" d="M212.4 402.1 C212.7 402.5 213.4 403.6 214.3 404.2 C215.1 404.8 215.6 405.3 217.4 405.6 C219.1 405.8 222.9 405.8 224.6 405.6 C226.2 405.3 226.5 404.8 227.3 404.2 C228.2 403.6 229.2 402.5 229.6 402.1"/>
<path class="d" d="M212.4 407.3 C212.7 407.6 213.4 408.8 214.3 409.4 C215.1 409.9 215.6 410.5 217.4 410.7 C219.1 411 222.9 411 224.6 410.7 C226.2 410.5 226.5 409.9 227.3 409.4 C228.2 408.8 229.2 407.6 229.6 407.3"/>
<path class="d" d="M212.4 413.1 C212.7 413.5 213.4 414.6 214.3 415.2 C215.1 415.8 215.6 416.3 217.4 416.6 C219.1 416.8 222.9 416.8 224.6 416.6 C226.2 416.3 226.5 415.8 227.3 415.2 C228.2 414.6 229.2 413.5 229.6 413.1"/>
<path class="d" d="M1282.2 576.9 L1293.2 569.7 L1305.5 571.7 L1308.6 573.8 L1310.7 580.7 L1300.7 586.9 L1286.3 584.8 L1282.5 580 Z"/>
<path class="d" d="M1282.2 576.9 L1281.8 586.2 L1286.3 593.7 L1300.7 595.8 L1311.4 589.6 L1310.7 580.7"/>
<path class="d" d="M1286.3 584.8 L1286.3 593.7"/>
<path class="d" d="M1300.7 586.9 L1300.7 597.5"/>
<path class="d" d="M1281.1 585.5 C1280.9 585.8 1280.1 586.5 1280.1 587.5 C1280.1 588.6 1280.3 590.1 1281.1 591.7 C1282 593.2 1284 595.9 1285.2 596.8 C1286.5 597.8 1288.1 597.4 1288.7 597.5"/>
<path class="d" d="M1288.7 597.5 L1305.2 597.5"/>
<path class="d" d="M1305.2 597.5 C1305.8 597.2 1307.4 596.4 1308.6 595.5 C1309.8 594.5 1311.6 592.9 1312.4 591.7 C1313.2 590.5 1313.5 589.3 1313.5 588.2 C1313.4 587.2 1312.3 585.9 1312.1 585.5"/>
<path class="d" d="M1288.2 597.5 L1288.2 619.2 L1293.2 626.8 L1298.3 626.8 L1302.4 625.7 L1305.4 619.2 L1305.4 597.5"/>
<path class="d" d="M1288.2 597.9 C1288.5 598.2 1289.2 599.4 1290.1 599.9 C1290.9 600.5 1291.4 601.1 1293.2 601.3 C1294.9 601.5 1298.7 601.5 1300.4 601.3 C1302 601.1 1302.3 600.5 1303.1 599.9 C1304 599.4 1305 598.2 1305.4 597.9"/>
<path class="d" d="M1288.2 602.7 C1288.5 603 1289.2 604.2 1290.1 604.7 C1290.9 605.3 1291.4 605.9 1293.2 606.1 C1294.9 606.3 1298.7 606.3 1300.4 606.1 C1302 605.9 1302.3 605.3 1303.1 604.7 C1304 604.2 1305 603 1305.4 602.7"/>
<path class="d" d="M1288.2 608.5 C1288.5 608.9 1289.2 610 1290.1 610.6 C1290.9 611.2 1291.4 611.7 1293.2 612 C1294.9 612.2 1298.7 612.2 1300.4 612 C1302 611.7 1302.3 611.2 1303.1 610.6 C1304 610 1305 608.9 1305.4 608.5"/>
<path class="d" d="M1288.2 613.7 C1288.5 614 1289.2 615.2 1290.1 615.8 C1290.9 616.3 1291.4 616.9 1293.2 617.1 C1294.9 617.4 1298.7 617.4 1300.4 617.1 C1302 616.9 1302.3 616.3 1303.1 615.8 C1304 615.2 1305 614 1305.4 613.7"/>
<path class="d" d="M1288.2 619.5 C1288.5 619.9 1289.2 621 1290.1 621.6 C1290.9 622.2 1291.4 622.7 1293.2 623 C1294.9 623.2 1298.7 623.2 1300.4 623 C1302 622.7 1302.3 622.2 1303.1 621.6 C1304 621 1305 619.9 1305.4 619.5"/>
<path class="d" d="M967.1 265.5 L1023.7 232"/>
<path class="d" d="M974.8 278.1 L1032 244.1"/>
<path class="d" d="M967.1 265.5 C966.8 266.2 965.1 268.3 964.9 269.9 C964.8 271.4 965.2 273.4 966 274.8 C966.9 276.3 968.4 277.9 969.9 278.4 C971.4 279 974 278.2 974.8 278.1"/>
<path class="d" d="M967.7 267.7 C968.2 268.1 970.1 269 971 269.9 C971.9 270.8 972.5 272.1 972.9 273.2 C973.3 274.3 973.4 275.9 973.5 276.5"/>
<path class="d" d="M969.5 264.1 C970.2 264.6 972.9 265.8 974.1 267.1 C975.4 268.5 976.4 270.5 976.9 272 C977.4 273.6 977.1 275.9 977.2 276.7"/>
<path class="d" d="M971.8 262.7 C972.6 263.3 975.2 264.5 976.4 265.8 C977.7 267.1 978.8 269 979.3 270.6 C979.8 272.2 979.5 274.5 979.5 275.3"/>
<path class="d" d="M974.1 261.4 C974.9 261.9 977.5 263.1 978.8 264.4 C980 265.7 981.1 267.6 981.6 269.2 C982.1 270.8 981.9 273.1 981.9 273.9"/>
<path class="d" d="M976.4 260 C977.2 260.5 979.8 261.7 981.1 263 C982.3 264.3 983.4 266.2 984 267.8 C984.5 269.4 984.2 271.7 984.3 272.5"/>
<path class="d" d="M978.7 258.6 C979.5 259.1 982.1 260.4 983.4 261.6 C984.7 262.9 985.8 264.8 986.3 266.4 C986.9 268 986.6 270.3 986.6 271.1"/>
<path class="d" d="M981 257.3 C981.8 257.8 984.4 259 985.7 260.3 C987 261.6 988.1 263.4 988.7 265 C989.2 266.5 988.9 268.9 989 269.7"/>
<path class="d" d="M983.4 255.9 C984.1 256.4 986.7 257.6 988 258.9 C989.3 260.2 990.5 262 991 263.6 C991.6 265.1 991.3 267.5 991.3 268.2"/>
<path class="d" d="M985.7 254.5 C986.4 255 989 256.3 990.3 257.5 C991.6 258.8 992.8 260.6 993.4 262.2 C994 263.7 993.6 266.1 993.7 266.8"/>
<path class="d" d="M988 253.1 C988.8 253.6 991.4 254.9 992.7 256.2 C993.9 257.4 995.2 259.2 995.8 260.7 C996.3 262.3 996 264.6 996 265.4"/>
<path class="d" d="M990.3 251.8 C991.1 252.3 993.7 253.5 995 254.8 C996.3 256 997.5 257.8 998.1 259.3 C998.7 260.9 998.3 263.2 998.4 264"/>
<path class="d" d="M992.6 250.4 C993.4 250.9 996 252.2 997.3 253.4 C998.6 254.7 999.9 256.4 1000.5 257.9 C1001 259.5 1000.7 261.8 1000.7 262.6"/>
<path class="d" d="M994.9 249 C995.7 249.5 998.3 250.8 999.6 252 C1000.9 253.3 1002.2 255 1002.8 256.5 C1003.4 258 1003 260.4 1003.1 261.2"/>
<path class="d" d="M997.2 247.6 C998 248.1 1000.6 249.4 1001.9 250.7 C1003.2 251.9 1004.6 253.6 1005.2 255.1 C1005.8 256.6 1005.4 259 1005.4 259.8"/>
<path class="d" d="M999.6 246.3 C1000.3 246.8 1002.9 248 1004.2 249.3 C1005.6 250.5 1006.9 252.2 1007.5 253.7 C1008.1 255.2 1007.8 257.6 1007.8 258.4"/>
<path class="d" d="M1023.7 231.4 C1023.6 230.6 1023 227.9 1023.2 226.5 C1023.4 225 1023.9 223.7 1024.8 222.6 C1025.8 221.6 1027.4 220.5 1028.7 220.2 C1030 219.8 1031.2 219.8 1032.5 220.4 C1033.9 221.1 1035.4 222.6 1036.9 224.3 C1038.5 225.9 1040.6 228.3 1041.9 230.3 C1043.2 232.3 1044 234.6 1044.6 236.4 C1045.3 238.1 1045.7 239.3 1045.7 240.8 C1045.7 242.2 1045.3 244 1044.6 245.2 C1043.9 246.4 1042.4 247.4 1041.3 247.9 C1040.2 248.5 1039.6 248.9 1038 248.5 C1036.5 248 1033 245.7 1032 245.2"/>
<path class="d" d="M1024.8 232 C1025.5 231.4 1027.3 229.4 1028.7 228.7 C1030.1 227.9 1031.7 227.4 1033.1 227.6 C1034.5 227.8 1035.8 228.7 1036.9 229.8 C1038 230.9 1039.2 232.7 1039.7 234.2 C1040.1 235.6 1040.1 237.4 1039.7 238.6 C1039.2 239.8 1038.2 240.4 1036.9 241.3 C1035.6 242.2 1032.8 243.6 1032 244.1"/>
<path class="d" d="M1032.5 220.4 L1036.9 217.1 L1047.4 222.6 L1052.9 234.2 L1052.9 235.8 L1050.1 240.2 L1045.7 243"/>
<path class="d" d="M1047.4 222.6 L1039.7 226.5"/>
<path class="d" d="M1052.9 235.8 L1045.7 238.6"/>
<path class="d" d="M1039.7 226.5 C1040.2 227.3 1042.1 229.8 1043 231.4 C1043.9 233.1 1044.7 234.8 1045.2 236.4 C1045.6 237.9 1045.6 240 1045.7 240.8"/>
<path class="d" d="M2130.1 285.5 L2186.7 252"/>
<path class="d" d="M2137.8 298.1 L2195 264.1"/>
<path class="d" d="M2130.1 285.5 C2129.8 286.2 2128.1 288.3 2127.9 289.9 C2127.8 291.4 2128.2 293.4 2129 294.8 C2129.9 296.3 2131.4 297.9 2132.9 298.4 C2134.4 299 2137 298.2 2137.8 298.1"/>
<path class="d" d="M2130.7 287.7 C2131.2 288.1 2133.1 289 2134 289.9 C2134.9 290.8 2135.5 292.1 2135.9 293.2 C2136.3 294.3 2136.4 295.9 2136.5 296.5"/>
<path class="d" d="M2132.5 284.1 C2133.2 284.6 2135.9 285.8 2137.1 287.1 C2138.4 288.5 2139.4 290.5 2139.9 292 C2140.4 293.6 2140.1 295.9 2140.2 296.7"/>
<path class="d" d="M2134.8 282.7 C2135.6 283.3 2138.2 284.5 2139.4 285.8 C2140.7 287.1 2141.8 289 2142.3 290.6 C2142.8 292.2 2142.5 294.5 2142.5 295.3"/>
<path class="d" d="M2137.1 281.4 C2137.9 281.9 2140.5 283.1 2141.8 284.4 C2143 285.7 2144.1 287.6 2144.6 289.2 C2145.1 290.8 2144.9 293.1 2144.9 293.9"/>
<path class="d" d="M2139.4 280 C2140.2 280.5 2142.8 281.7 2144.1 283 C2145.3 284.3 2146.4 286.2 2147 287.8 C2147.5 289.4 2147.2 291.7 2147.3 292.5"/>
<path class="d" d="M2141.7 278.6 C2142.5 279.1 2145.1 280.4 2146.4 281.6 C2147.7 282.9 2148.8 284.8 2149.3 286.4 C2149.9 288 2149.6 290.3 2149.6 291.1"/>
<path class="d" d="M2144 277.3 C2144.8 277.8 2147.4 279 2148.7 280.3 C2150 281.6 2151.1 283.4 2151.7 285 C2152.2 286.5 2151.9 288.9 2152 289.7"/>
<path class="d" d="M2146.4 275.9 C2147.1 276.4 2149.7 277.6 2151 278.9 C2152.3 280.2 2153.5 282 2154 283.6 C2154.6 285.1 2154.3 287.5 2154.3 288.2"/>
<path class="d" d="M2148.7 274.5 C2149.4 275 2152 276.3 2153.3 277.5 C2154.6 278.8 2155.8 280.6 2156.4 282.2 C2157 283.7 2156.6 286.1 2156.7 286.8"/>
<path class="d" d="M2151 273.1 C2151.8 273.6 2154.4 274.9 2155.7 276.2 C2156.9 277.4 2158.2 279.2 2158.8 280.7 C2159.3 282.3 2159 284.6 2159 285.4"/>
<path class="d" d="M2153.3 271.8 C2154.1 272.3 2156.7 273.5 2158 274.8 C2159.3 276 2160.5 277.8 2161.1 279.3 C2161.7 280.9 2161.3 283.2 2161.4 284"/>
<path class="d" d="M2155.6 270.4 C2156.4 270.9 2159 272.2 2160.3 273.4 C2161.6 274.7 2162.9 276.4 2163.5 277.9 C2164 279.5 2163.7 281.8 2163.7 282.6"/>
<path class="d" d="M2157.9 269 C2158.7 269.5 2161.3 270.8 2162.6 272 C2163.9 273.3 2165.2 275 2165.8 276.5 C2166.4 278 2166 280.4 2166.1 281.2"/>
<path class="d" d="M2160.2 267.6 C2161 268.1 2163.6 269.4 2164.9 270.7 C2166.2 271.9 2167.6 273.6 2168.2 275.1 C2168.8 276.6 2168.4 279 2168.4 279.8"/>
<path class="d" d="M2162.6 266.3 C2163.3 266.8 2165.9 268 2167.2 269.3 C2168.6 270.5 2169.9 272.2 2170.5 273.7 C2171.1 275.2 2170.8 277.6 2170.8 278.4"/>
<path class="d" d="M2186.7 251.4 C2186.6 250.6 2186 247.9 2186.2 246.5 C2186.4 245 2186.9 243.7 2187.8 242.6 C2188.8 241.6 2190.4 240.5 2191.7 240.2 C2193 239.8 2194.2 239.8 2195.5 240.4 C2196.9 241.1 2198.4 242.6 2199.9 244.3 C2201.5 245.9 2203.6 248.3 2204.9 250.3 C2206.2 252.3 2207 254.6 2207.6 256.4 C2208.3 258.1 2208.7 259.3 2208.7 260.8 C2208.7 262.2 2208.3 264 2207.6 265.2 C2206.9 266.4 2205.4 267.4 2204.3 267.9 C2203.2 268.5 2202.6 268.9 2201 268.5 C2199.5 268 2196 265.7 2195 265.2"/>
<path class="d" d="M2187.8 252 C2188.5 251.4 2190.3 249.4 2191.7 248.7 C2193.1 247.9 2194.7 247.4 2196.1 247.6 C2197.5 247.8 2198.8 248.7 2199.9 249.8 C2201 250.9 2202.2 252.7 2202.7 254.2 C2203.1 255.6 2203.1 257.4 2202.7 258.6 C2202.2 259.8 2201.2 260.4 2199.9 261.3 C2198.6 262.2 2195.8 263.6 2195 264.1"/>
<path class="d" d="M2195.5 240.4 L2199.9 237.1 L2210.4 242.6 L2215.9 254.2 L2215.9 255.8 L2213.1 260.2 L2208.7 263"/>
<path class="d" d="M2210.4 242.6 L2202.7 246.5"/>
<path class="d" d="M2215.9 255.8 L2208.7 258.6"/>
<path class="d" d="M2202.7 246.5 C2203.2 247.3 2205.1 249.8 2206 251.4 C2206.9 253.1 2207.7 254.8 2208.2 256.4 C2208.6 257.9 2208.6 260 2208.7 260.8"/>
<path class="d" d="M701.5 765.6 L742.2 750.5"/>
<path class="d" d="M742.2 750.5 C747 751.6 764.6 755.1 770.7 757 C776.7 758.9 776.7 760.2 778.5 761.7 C780.3 763.2 780.9 765.2 781.4 765.9"/>
<path class="d" d="M781.4 765.9 L781.4 800.3 L729.5 819.4 L723.2 817.6 L719 815.5 L716.4 815.5 L713 812.9 L701.5 797.2 L701.5 765.6"/>
<path class="d" d="M749.3 754.9 L772.3 767.2"/>
<path class="d" d="M749.3 754.4 C752.8 755 765.6 756.9 770.2 758 C774.7 759.2 775.1 760.1 776.4 761.2 C777.7 762.2 777.7 763.8 778 764.3"/>
<path class="d" d="M750.3 755.4 C753.5 756 765.5 758 769.6 759.1 C773.8 760.2 774.1 761.2 775.4 762.2 C776.6 763.3 776.9 764.8 777.2 765.4"/>
<path class="d" d="M729.5 782.6 L772.3 767.2 L777 765.1"/>
<path class="d" d="M725.8 786.2 L729.5 786.8 L781.4 765.9"/>
<path class="d" d="M707.5 769.5 L729.5 782.1"/>
<path class="d" d="M707.5 769.5 L712.2 781.5 L716.9 783.6 L721.1 784.1 L725.8 786.2"/>
<path class="d" d="M701.5 765.6 L712.2 781.5"/>
<path class="d" d="M713.3 782.6 L713.3 812.9"/>
<path class="d" d="M716.4 784.1 L716.4 815.5"/>
<path class="d" d="M719.5 784.1 L719.5 815.5"/>
<path class="d" d="M722.4 785.2 L722.4 817.3"/>
<path class="d" d="M723.4 785.2 L723.4 817.7"/>
<path class="d" d="M729.5 786.8 L729.5 819.4"/>
<path class="d" d="M755.5 783.6 L773.3 777.4 L773.3 795.1 L755.5 802.2 L755.5 783.6"/>
<path class="d" d="M737.5 790.4 L755.5 783.6"/>
<path class="d" d="M737.5 790.4 L737.5 808.4 L746.7 812.3 L748.8 811.8"/>
<path class="d" d="M737.5 790.4 L746.7 793.8 L746.7 812.3"/>
<path class="d" d="M748.8 792 L748.8 811.8"/>
<path class="d" d="M746.7 793.8 L748.8 792 L751.1 785.7"/>
<path class="d" d="M755.5 802.2 L752.9 802.4 L748.8 806.6"/>
<path class="d" d="M750.6 795.4 L752.4 795.4 L752.4 799.3 L751.6 801.4 L750.6 801.4 Z"/>
<path class="d" d="M943.3 659.4 L985 644.3"/>
<path class="d" d="M985 644.3 C989.9 645.4 1008.2 649.2 1014.3 651 C1020.3 652.9 1019.6 653.7 1021.6 655.2 C1023.5 656.8 1025 659.6 1025.7 660.4"/>
<path class="d" d="M1025.7 660.4 L1025.7 695.4 L970.9 714.5 L966.2 713.7 L966.2 711.6 L959.4 711.6 L954.7 709 L943.3 692.5 L943.3 659.4"/>
<path class="d" d="M992.3 649 L1015.3 661"/>
<path class="d" d="M992.3 648.4 C995.9 649 1009.1 650.7 1013.7 651.8 C1018.3 653 1018.6 654.1 1020 655.2 C1021.4 656.3 1021.7 657.8 1022.1 658.4"/>
<path class="d" d="M993.4 649.5 C996.7 650 1008.9 651.7 1013.2 652.9 C1017.5 654 1017.6 655.2 1019 656.3 C1020.3 657.4 1020.7 658.9 1021 659.4"/>
<path class="d" d="M973 677.1 L1015.3 661 L1022.6 658.4"/>
<path class="d" d="M968.3 679.2 L971.5 681.3 L1025.7 660.4"/>
<path class="d" d="M949 664.1 L973 677.1"/>
<path class="d" d="M943.3 659.4 L957.9 678.2"/>
<path class="d" d="M949 664.1 L954.7 674 L958.9 678.2 L968.3 679.2"/>
<path class="d" d="M943.3 671.4 L954.7 686.5 L959.4 689.7 L966.2 689.7"/>
<path class="d" d="M943.3 683.4 L955.3 698.5 L958.9 700.6 L966.2 700.6"/>
<path class="d" d="M949 686.5 L955.3 698"/>
<path class="d" d="M955.3 677.7 L955.3 687.1"/>
<path class="d" d="M958.4 678.7 L958.4 689.7"/>
<path class="d" d="M961.5 679.2 L961.5 690.2"/>
<path class="d" d="M964.7 679.8 L964.7 689.7"/>
<path class="d" d="M955.3 699.1 L955.3 709.5"/>
<path class="d" d="M958.4 700.6 L958.4 711.6"/>
<path class="d" d="M961.5 700.6 L961.5 705.9"/>
<path class="d" d="M962.6 705.9 L962.6 711.6"/>
<path class="d" d="M964.7 701.7 L964.7 711.6"/>
<path class="d" d="M966.2 679.2 L966.2 713.7"/>
<path class="d" d="M971.5 681.3 L971.5 714.5"/>
<path class="d" d="M975.4 687.3 L1012.7 673.2 L1012.7 692.5 L1007.5 699.1"/>
<path class="d" d="M975.4 687.3 L975.4 706.4 L995.2 698.8"/>
<path class="d" d="M995.2 679.5 L995.2 698.8 L1000.4 698.8 L1002.2 700.4 L1005.4 700.4"/>
<path class="d" d="M995.2 679.5 L1005.4 682.9 L1005.4 701.7"/>
<path class="d" d="M1007.5 682.9 L1007.5 701.2"/>
<path class="d" d="M1005.4 682.9 L1007.5 682.4 L1011.6 674"/>
<path class="d" d="M996.5 688.6 C996.9 688.4 997.7 687.4 998.6 687.3 C999.5 687.3 1000.9 687.8 1001.7 688.4 C1002.6 688.9 1003.3 690 1003.6 690.7 C1003.8 691.4 1004.1 692.5 1003.3 692.5 C1002.5 692.6 999.7 691.9 998.6 691.2 C997.5 690.6 996.9 689.1 996.5 688.6"/>
<path class="d" d="M1954.5 234 L1954.5 307.3"/>
<path class="d" d="M1954.5 234 C1955 233 1955.7 229.5 1957.6 227.9 C1959.5 226.3 1963.2 224.7 1965.9 224.3 C1968.7 224 1972.7 225.6 1974.1 225.8"/>
<path class="d" d="M1480 642.5 C1485.5 640.6 1502 634.6 1513 631 C1524 627.4 1534 624.5 1545.9 621.1 C1557.8 617.7 1576.2 613.4 1584.4 610.7 C1592.7 608.1 1587.2 609.9 1595.4 605.2 C1603.6 600.5 1619.7 590.9 1633.8 582.6 C1647.9 574.4 1661.8 566.4 1680 555.7 C1698.2 545 1718.6 532.7 1742.9 518.2 C1767.2 503.7 1782.9 494.4 1825.7 468.8 C1868.5 443.2 1965.5 385.6 2000 364.9 C2034.5 344.2 2023.9 350.6 2033 344.8 C2042.1 339 2049.4 334.2 2054.6 330 C2059.8 325.8 2061.8 323.1 2063.9 319.7 C2066 316.3 2066.3 312.1 2067 309.4 C2067.7 306.6 2068.2 305.9 2068 303.2 C2067.8 300.4 2067.6 296.7 2066 292.9 C2064.4 289.1 2062 284.5 2058.7 280.5 C2055.4 276.5 2048.4 271 2046.4 269.1"/>
<path class="d" d="M2046.4 269.1 L1974.1 225.8"/>
<path class="d" d="M1640 532.9 C1642.6 531.8 1649.9 527.1 1655.4 526.3 C1660.9 525.5 1668.6 527.6 1673 527.9 C1677.4 528.2 1676.3 528.3 1681.8 527.9 C1687.3 527.5 1698.2 526.7 1705.9 525.2 C1713.6 523.7 1720.6 521.6 1727.9 519.1 C1735.2 516.6 1741.2 514.7 1749.9 510.3 C1758.6 505.9 1767.9 499.8 1780 492.5 C1792.1 485.2 1812.4 472.6 1822.4 466.4 C1832.4 460.2 1820.6 467.6 1840 455.5 C1859.4 443.4 1913.5 409.8 1939 394 C1964.5 378.2 1974.1 372.4 1992.7 361 C2011.3 349.6 2039.5 333.5 2050.5 325.9 C2061.5 318.3 2057 319.1 2058.7 315.6 C2060.4 312.2 2060.8 309 2060.8 305.2 C2060.8 301.4 2060.1 296.7 2058.7 292.9 C2057.3 289.1 2055.4 285.8 2052.5 282.5 C2049.6 279.2 2043.1 274.8 2041.2 273.3"/>
<path class="d" d="M2041.2 273.3 L1961.7 227.9"/>
<path class="d" d="M1681.8 527.9 L1799.9 460.3"/>
<path class="d" d="M1810 454 L1923.6 388.6"/>
<path class="d" d="M1799.3 460 C1799.6 459.4 1800.6 457.4 1801.4 456.4 C1802.3 455.4 1802.9 454.4 1804.3 454 C1805.7 453.6 1809 454 1810 454"/>
<path class="d" d="M1803.6 457.1 L1822.9 466.4 L1826.4 464.3 L1810 454"/>
<path class="d" d="M1923.6 388.6 C1923.9 388.1 1924.9 386.4 1925.7 385.7 C1926.5 385 1927.5 384.8 1928.6 384.6 C1929.6 384.4 1931.5 384.6 1932.1 384.6"/>
<path class="d" d="M1925.7 387.4 L1940 394.3 L1944.3 392.1 L1932.1 384.6"/>
<path class="d" d="M1932.9 382.9 L1974.3 360 L1982.9 355 L1995.7 361.4"/>
<path class="d" d="M2068 303.2 L2068 365.1"/>
<path class="d" d="M1986.5 431.1 C1987.5 430.8 1990 430.1 1992.7 429.1 C1995.5 428.1 1994 430.4 2003 424.9 C2012 419.4 2036.9 402.7 2046.4 396 C2055.9 389.3 2056.7 387.8 2059.8 384.7 C2062.9 381.6 2063.5 380.8 2064.9 377.5 C2066.3 374.2 2067.5 367.2 2068 365.1"/>
<path class="d" d="M2060.4 386.8 C2059.1 388 2058.3 390 2052.5 394 C2046.8 397.9 2033.6 405.7 2025.7 410.5 C2017.8 415.2 2010.4 419.4 2005.1 422.5 C1999.8 425.5 1995.6 427.6 1993.7 428.6"/>
<path class="d" d="M1611.9 651 C1623.5 644.6 1650 630.5 1681.3 612.8 C1712.6 595.1 1773.3 560.5 1800 545 C1826.7 529.5 1830.6 526.6 1841.4 520 C1852.2 513.4 1840.6 520.2 1864.8 505.4 C1889 490.6 1966.2 443.5 1986.5 431.1"/>
<path class="d" d="M1864.8 505.4 C1867.5 504.7 1875.1 502.5 1881.3 501.3 C1887.5 500.1 1895 498.7 1901.9 498.2 C1908.8 497.7 1915.6 497.3 1922.5 498.2 C1929.4 499.1 1936.3 501.1 1943.2 503.3 C1950.1 505.5 1956.9 508.3 1963.8 511.6 C1970.7 514.9 1977.6 518.1 1984.5 522.9 C1991.4 527.7 1998.9 534.5 2005.1 540.5 C2011.3 546.5 2016.8 552.9 2021.6 559.1 C2026.4 565.3 2031.2 572.8 2034 577.6 C2036.8 582.4 2037.4 586.3 2038.1 588"/>
<path class="d" d="M1984.5 518.8 C1987.9 521.5 1998.2 528.6 2005.1 535.3 C2012 542 2020.2 552 2025.7 559.1 C2031.2 566.2 2034.6 572.1 2038.1 577.6 C2041.5 583.1 2045 589.7 2046.4 592.1"/>
<path class="d" d="M2060.4 384.7 L2060.4 583.8 L2046.4 592.1 L2038.1 588"/>
<path class="d" d="M1982.4 462.1 L2036 431.5 L2036 460.4 L1982.4 491 Z"/>
<path class="d" d="M2030.9 434.6 L2030.9 457.9 L1982.4 484.4"/>
<path class="d" d="M2030.9 457.9 L2036 460.4"/>
<path class="d" d="M1930.8 323.4 L1989.6 289.1 L2049.5 324.2"/>
<path class="d" d="M1930.8 323.4 C1930.5 323.7 1929.1 324.5 1928.7 325.1 C1928.4 325.6 1928.7 326.6 1928.7 326.9"/>
<path class="d" d="M1928.6 327.9 L1928.6 334.3 L1931.4 337.1 L1931.4 365.7 L1928.6 368.6 L1928.6 377.1 L1932.9 380.7 L1932.9 382.9"/>
<path class="d" d="M1928.6 327.9 L1978.6 357.1"/>
<path class="d" d="M1931.4 337.1 L1974.3 360"/>
<path class="d" d="M1928.6 368.6 L1945.7 374.3"/>
<path class="d" d="M1931.4 371.4 L1942.9 377.9"/>
<path class="d" d="M1932.9 380.7 L1945.7 374.3"/>
<ellipse class="d" cx="1950" cy="362.9" rx="10.5" ry="14.3" transform="rotate(-25 1950 362.9)"/>
<ellipse class="d" cx="1945.7" cy="365.5" rx="7.2" ry="10.8" transform="rotate(-25 1945.7 365.5)"/>
<path class="d" d="M1605.3 557.4 L1605.3 525.5 L1611.9 521.6 L1634.9 535.4"/>
<path class="d" d="M1634.9 535.4 C1635.2 535.8 1636.2 536.8 1636.6 537.6 C1637 538.4 1637.1 539.9 1637.1 540.3"/>
<path class="d" d="M1637.1 540.3 L1636.6 558.5"/>
<path class="d" d="M1636.6 558.5 C1636.4 559.2 1636.1 561.6 1635.5 562.9 C1634.9 564.1 1634.7 564.7 1632.7 566.2 C1630.8 567.6 1625.4 570.7 1624 571.6"/>
<path class="d" d="M1624 571.6 L1590.4 592 L1590.4 566.2 L1622.9 549.1"/>
<path class="d" d="M1605.3 525.5 L1626.2 538.1"/>
<path class="d" d="M1626.2 538.1 C1626.4 538.7 1627.7 540.1 1627.8 541.4 C1627.9 542.7 1627.5 544.5 1626.7 545.8 C1625.9 547.1 1623.5 548.6 1622.9 549.1"/>
<path class="d" d="M1590.4 566.2 L1595.4 568.4 L1632.7 549.1"/>
<path class="d" d="M1632.7 549.1 C1633.3 548.3 1635.3 545.8 1636 544.2 C1636.7 542.5 1636.8 540.1 1636.9 539.2"/>
<path class="d" d="M1595.4 568.4 L1595.4 588.7"/>
<path class="d" d="M1599.2 571.6 L1624 559 L1624 570 L1599.2 583.2 Z"/>
<path class="d" d="M1599.2 579.9 L1621.2 568.9 L1621.2 560.7"/>
<path class="d" d="M1636 534.8 L1655.8 526.6"/>
<path class="d" d="M1655.8 526.6 C1657.3 526.7 1661.9 527.2 1664.6 527.5 C1667.4 527.7 1671 528.1 1672.3 528.2"/>
<path class="d" d="M1509.1 627.1 C1515.3 624.5 1532.4 617.1 1545.9 611.2 C1559.5 605.3 1583 595.2 1590.4 592"/>
<path class="d" d="M1469 641.2 L1509.1 627.1"/>
<path class="d" d="M1469 613 L1501.4 602.2 L1506.4 606.8 L1506.4 626 L1509.1 627.1"/>
<path class="d" d="M1469 619.5 L1506.4 606.8"/>
<path class="d" d="M1501.4 659.6 C1501.7 658.8 1502.1 656.4 1503.1 655.2 C1504.1 654 1506.7 652.9 1507.5 652.4"/>
<path class="d" d="M1507.5 652.4 C1519.4 648.8 1563.8 636.1 1578.9 631 C1594 625.9 1591.7 624.9 1598.1 621.6 C1604.5 618.4 1614.2 613.4 1617.4 611.8"/>
<path class="d" d="M1617.4 611.8 C1617.8 611.7 1619.4 611.1 1620.1 611.4 C1620.8 611.8 1621.5 613.5 1621.8 614"/>
<path class="d" d="M1621.8 614 L1621.8 628.8"/>
<path class="d" d="M1621.8 628.8 C1621.3 629.6 1620.7 632.2 1619 633.7 C1617.4 635.3 1616.7 635.7 1611.9 638.1 C1607 640.6 1607.7 642.3 1589.9 648.6 C1572.1 654.8 1519.4 671 1505.3 675.5"/>
<path class="d" d="M1505.3 675.5 C1504.8 675.3 1503.2 675 1502.5 674.4 C1501.9 673.8 1501.6 672.1 1501.4 671.6"/>
<path class="d" d="M1501.4 671.6 L1501.4 659.6"/>
<path class="d" d="M1616.3 612.9 L1616.3 625.5"/>
<path class="d" d="M1616.3 625.5 C1615.9 626.4 1615.2 629.5 1614.1 631 C1613 632.5 1614.1 632 1609.7 634.3 C1605.3 636.6 1605.5 639 1587.7 644.7 C1569.8 650.5 1516.7 664.9 1502.5 668.9"/>
<path class="d" d="M1556.9 638.1 C1555.8 638.6 1559.5 635.7 1550.3 640.7 C1541.2 645.6 1510 663.5 1502 668"/>
<path class="d" d="M1502.5 671.6 L1588.8 650.2 L1588.8 654.1 L1585.5 655.7"/>
<path class="d" d="M1587.5 613.4 L1587.5 622.7"/>
<path class="d" d="M1611.7 651.6 L1632.8 662.9 L1638.7 660.2 L1638.7 642.4 L1681.3 619.5 L1681.3 612.8"/>
<path class="d" d="M1633.4 639.8 L1633.4 662.9"/>
<path class="d" d="M1342.4 646.9 C1343 646.4 1344.1 644.1 1345.7 644.1 C1347.4 644.1 1349 646.1 1352.3 646.9 C1355.6 647.6 1361.6 648.7 1365.5 648.5 C1369.3 648.4 1373.7 646.5 1375.4 646"/>
<path class="d" d="M1375.4 646 L1501.5 602.4 L1506.4 606.5 L1506.4 625.4 L1510.5 626.6"/>
<path class="d" d="M1342.4 646.9 C1343.5 647.4 1345.7 649.2 1349 650.2 C1352.3 651.1 1358.1 652.5 1362.2 652.6 C1366.3 652.8 1371.8 651.3 1373.7 651"/>
<path class="d" d="M1373.7 651 L1500.7 605.7 L1506.4 606.5"/>
<path class="d" d="M1342.4 646.9 L1342.4 669.1"/>
<path class="d" d="M1342.4 669.1 C1342.1 669.4 1342.1 669.9 1340.8 670.8 C1339.4 671.6 1335.3 673.5 1334.2 674.1"/>
<path class="d" d="M1340.8 670.8 C1342.1 671.3 1345.4 673.2 1349 674.1 C1352.6 674.9 1358.1 675.9 1362.2 675.7 C1366.3 675.6 1371.8 673.7 1373.7 673.2"/>
<path class="d" d="M1373.7 673.2 L1480.1 637.9"/>
<path class="d" d="M1334.2 674.1 C1334.7 674.6 1335 676.3 1337.5 677.4 C1339.9 678.5 1344.3 680 1349 680.7 C1353.7 681.3 1361.1 681.8 1365.5 681.5 C1369.9 681.2 1373.7 679.4 1375.4 679"/>
<path class="d" d="M1375.4 679 L1480.1 644.6"/>
<path class="d" d="M1443.8 636.2 L1446.3 633.7"/>
<path class="d" d="M1446.3 633.7 L1472.6 625.4"/>
<path class="d" d="M1472.6 625.4 C1473.1 625.6 1475.1 625.9 1475.6 626.6 C1476.1 627.3 1475.6 629.1 1475.6 629.6"/>
<path class="d" d="M1475.6 629.6 L1475.6 634.5"/>
<path class="d" d="M1475.6 634.5 L1472.6 637.8"/>
<path class="d" d="M1472.6 637.8 L1446.3 646 L1443.8 645.2 L1443.8 636.2"/>
<path class="d" d="M1471.8 627.1 L1471.8 633.2 L1469.3 635.3 L1445.4 643.1"/>
<path class="d" d="M1278.1 667 L1272.4 669.9 L1272.4 693 L1375.4 749.1"/>
<path class="d" d="M1272.4 669.9 L1333.4 703.7 L1333.8 674.1"/>
<path class="d" d="M1278.1 667 L1299.6 679"/>
<path class="d" d="M1299.6 679 C1300.9 678 1304.9 674.7 1307.8 673.2 C1310.7 671.8 1313.8 670.4 1316.9 670.3 C1319.9 670.1 1323.1 671.4 1325.9 672.4 C1328.8 673.5 1332.5 675.9 1333.8 676.5"/>
<path class="d" d="M1311.9 687.6 C1312.7 687.2 1314.9 685.5 1316.9 685.3 C1318.8 685.1 1321.8 685.5 1323.5 686.4 C1325.1 687.3 1326.5 689.3 1326.8 690.5 C1327 691.8 1325.4 693.3 1325.1 693.8"/>
<path class="d" d="M1315.2 688.9 C1316 689 1318.5 688.7 1320.2 689.4 C1321.8 690.1 1324.3 692.4 1325.1 693"/>
<path class="d" d="M1312.4 687.6 C1313.2 687.8 1315 687.9 1316.9 688.9 C1318.7 689.9 1322.4 692.7 1323.5 693.5"/>
<path class="d" d="M1355.3 686.4 L1355.3 726"/>
<path class="d" d="M1365.5 695.5 C1365.5 700.7 1365.2 721 1365.5 726.8 C1365.8 732.6 1366.3 729.3 1367.1 730.1 C1368 730.9 1369.9 731.5 1370.4 731.8"/>
<path class="d" d="M1351.5 732.1 L1370.4 732.1"/>
<path class="d" d="M1352.3 732.6 L1373.7 744.9"/>
<path class="d" d="M1365.5 698.8 C1365.8 698.1 1366 695.6 1367.1 694.7 C1368.2 693.7 1371.3 693.3 1372.1 693"/>
<path class="d" d="M1372.1 693 L1395.2 687.3"/>
<path class="d" d="M1395.2 687.3 C1396 687.3 1399 686.4 1400.1 687.3 C1401.2 688.1 1401.1 690.8 1401.8 692.2 C1402.4 693.6 1403.8 694.9 1404.2 695.5"/>
<path class="d" d="M1404.2 695.5 L1477.6 671.6 L1481.7 671.6 L1481.7 688.9"/>
<path class="d" d="M1478.4 671.6 L1478.4 687.3"/>
<path class="d" d="M1365.5 699.6 L1379.5 705.4 L1452.9 705.4"/>
<path class="d" d="M1452.9 705.4 C1454 704.8 1457.5 704 1459.4 702.1 C1461.4 700.2 1463.3 696 1464.4 693.8 C1465.5 691.6 1463.7 690.5 1466 688.9 C1468.4 687.3 1476.3 684.8 1478.4 684"/>
<path class="d" d="M1375.4 749.1 C1389.5 743.3 1434.9 724.6 1460 714.3 C1485.1 704 1503.9 695.8 1525.9 687.3 C1547.9 678.8 1577.6 669.5 1591.9 663.5 C1606.2 657.5 1608.4 653.6 1611.7 651.6"/>
<path class="d" d="M1373.7 744.1 C1388.1 737.9 1434.6 717.8 1460 707 C1485.4 696.2 1503.9 687.2 1525.9 679.3 C1547.9 671.4 1577.6 664.2 1591.9 659.6 C1606.2 655 1608.4 652.9 1611.7 651.6"/>
<path class="d" d="M1482.4 689.2 L1586.6 658.5"/>
</g>

<g fill="#000">
<rect x="13" y="1122" width="2249" height="4"/>
<rect x="13" y="1222" width="2249" height="4"/>
<rect x="759" y="1122" width="4" height="1578"/>
<rect x="1509" y="1122" width="4" height="1578"/>
<rect x="2259" y="1122" width="3" height="1578"/>
</g>
<g font-family="Liberation Sans, sans-serif" fill="#000" filter="url(#bw)">
<text transform="translate(101.9,1163.8) scale(0.985,1)" font-size="38" font-weight="normal" text-anchor="middle" >REF.</text>
<text transform="translate(101.6,1201.9) scale(0.985,1)" font-size="38" font-weight="normal" text-anchor="middle" >NO.</text>
<text transform="translate(266.6,1163.8) scale(0.985,1)" font-size="38" font-weight="normal" text-anchor="middle" >PART</text>
<text transform="translate(266.8,1201.9) scale(0.985,1)" font-size="38" font-weight="normal" text-anchor="middle" >NO.</text>
<text transform="translate(546.2,1201.9) scale(0.985,1)" font-size="38" font-weight="normal" text-anchor="middle" >DESCRIPTION</text>
<text transform="translate(852.2,1163.8) scale(0.985,1)" font-size="38" font-weight="normal" text-anchor="middle" >REF.</text>
<text transform="translate(851.9,1201.9) scale(0.985,1)" font-size="38" font-weight="normal" text-anchor="middle" >NO.</text>
<text transform="translate(1016.9,1163.8) scale(0.985,1)" font-size="38" font-weight="normal" text-anchor="middle" >PART</text>
<text transform="translate(1017.1,1201.9) scale(0.985,1)" font-size="38" font-weight="normal" text-anchor="middle" >NO.</text>
<text transform="translate(1296.5,1201.9) scale(0.985,1)" font-size="38" font-weight="normal" text-anchor="middle" >DESCRIPTION</text>
<text transform="translate(1602.5,1163.8) scale(0.985,1)" font-size="38" font-weight="normal" text-anchor="middle" >REF.</text>
<text transform="translate(1602.2,1201.9) scale(0.985,1)" font-size="38" font-weight="normal" text-anchor="middle" >NO.</text>
<text transform="translate(1767.2,1163.8) scale(0.985,1)" font-size="38" font-weight="normal" text-anchor="middle" >PART</text>
<text transform="translate(1767.4,1201.9) scale(0.985,1)" font-size="38" font-weight="normal" text-anchor="middle" >NO.</text>
<text transform="translate(2046.8,1201.9) scale(0.985,1)" font-size="38" font-weight="normal" text-anchor="middle" >DESCRIPTION</text>
<text transform="translate(345.2,1280.9) scale(1.003,1)" font-size="37.5" font-weight="normal" text-anchor="start" >Panel</text>
<rect x="444.6" y="1270.3" width="14.2" height="2.6"/>
<text transform="translate(462.6,1280.9) scale(1.003,1)" font-size="37.5" font-weight="normal" text-anchor="start" >Control</text>
<text transform="translate(345.2,1325.7) scale(1.003,1)" font-size="37.5" font-weight="normal" text-anchor="start" >Used on Type No(s).</text>
<text transform="translate(345.2,1370.5) scale(1.003,1)" font-size="37.5" font-weight="normal" text-anchor="start" >0035, 0046, 0047,</text>
<text transform="translate(345.2,1415.3) scale(1.003,1)" font-size="37.5" font-weight="normal" text-anchor="start" >0053, 0070, 0088,</text>
<text transform="translate(345.2,1460.1) scale(1.003,1)" font-size="37.5" font-weight="normal" text-anchor="start" >0122, 0127, 0131,</text>
<text transform="translate(345.2,1504.9) scale(1.003,1)" font-size="37.5" font-weight="normal" text-anchor="start" >0137, 0142, 0145,</text>
<text transform="translate(345.2,1549.7) scale(1.003,1)" font-size="37.5" font-weight="normal" text-anchor="start" >0163, 0235, 0236,</text>
<text transform="translate(345.2,1594.5) scale(1.003,1)" font-size="37.5" font-weight="normal" text-anchor="start" >0238, 0239, 0246,</text>
<text transform="translate(345.2,1639.3) scale(1.003,1)" font-size="37.5" font-weight="normal" text-anchor="start" >0247, 0258, 0270,</text>
<text transform="translate(345.2,1684.1) scale(1.003,1)" font-size="37.5" font-weight="normal" text-anchor="start" >0272, 0290, 0295,</text>
<text transform="translate(345.2,1728.9) scale(1.003,1)" font-size="37.5" font-weight="normal" text-anchor="start" >0297, 0302, 0538,</text>
<text transform="translate(345.2,1773.7) scale(1.003,1)" font-size="37.5" font-weight="normal" text-anchor="start" >0542, 0545, 0548,</text>
<text transform="translate(345.2,1818.5) scale(1.003,1)" font-size="37.5" font-weight="normal" text-anchor="start" >0552, 0553, 0559,</text>
<text transform="translate(345.2,1863.3) scale(1.003,1)" font-size="37.5" font-weight="normal" text-anchor="start" >0565, 0566, 0570,</text>
<text transform="translate(345.2,1908.1) scale(1.003,1)" font-size="37.5" font-weight="normal" text-anchor="start" >0571, 0612, 0616,</text>
<text transform="translate(345.2,1952.9) scale(1.003,1)" font-size="37.5" font-weight="normal" text-anchor="start" >0617, 0618.</text>
<rect x="347.7" y="1987.1" width="15.4" height="4.0"/>
<rect x="368.6" y="1987.1" width="15.4" height="4.0"/>
<rect x="389.5" y="1987.1" width="15.4" height="4.0"/>
<rect x="410.4" y="1987.1" width="15.4" height="4.0"/>
<rect x="431.3" y="1987.1" width="15.4" height="4.0"/>
<rect x="452.2" y="1987.1" width="15.4" height="4.0"/>
<rect x="473.1" y="1987.1" width="15.4" height="4.0"/>
<text transform="translate(502.2,1997.7) scale(1.0,1)" font-size="37.5" font-weight="bold" text-anchor="start" >Note</text>
<rect x="600.3" y="1987.1" width="15.4" height="4.0"/>
<rect x="621.2" y="1987.1" width="15.4" height="4.0"/>
<rect x="642.1" y="1987.1" width="15.4" height="4.0"/>
<rect x="663.0" y="1987.1" width="15.4" height="4.0"/>
<rect x="683.9" y="1987.1" width="15.4" height="4.0"/>
<text transform="translate(344.2,2042.5) scale(1.003,1)" font-size="37.5" font-weight="bold" text-anchor="start" >711575</text>
<text transform="translate(469.7,2042.5) scale(1.003,1)" font-size="37.5" font-weight="normal" text-anchor="start" > </text>
<text transform="translate(480.2,2042.5) scale(1.003,1)" font-size="37.5" font-weight="normal" text-anchor="start" >Panel</text>
<rect x="579.6" y="2031.9" width="14.2" height="2.6"/>
<text transform="translate(597.6,2042.5) scale(1.003,1)" font-size="37.5" font-weight="normal" text-anchor="start" >Control</text>
<text transform="translate(345.2,2087.3) scale(1.003,1)" font-size="37.5" font-weight="normal" text-anchor="start" >Used on Type No(s).</text>
<text transform="translate(345.2,2132.1) scale(1.003,1)" font-size="37.5" font-weight="normal" text-anchor="start" >0271, 0613, 0614.</text>
<text transform="translate(130.5,1280.9) scale(1.015,1)" font-size="37.5" font-weight="bold" text-anchor="end" >281</text>
<text transform="translate(321.5,1280.9) scale(1.015,1)" font-size="37.5" font-weight="bold" text-anchor="end" >711573</text>
<text transform="translate(1110.9,1280.7) scale(1.003,1)" font-size="37.5" font-weight="normal" text-anchor="start" >Panel</text>
<rect x="1210.3" y="1270.1" width="14.2" height="2.6"/>
<text transform="translate(1228.3,1280.7) scale(1.003,1)" font-size="37.5" font-weight="normal" text-anchor="start" >Control</text>
<text transform="translate(1110.9,1327.9) scale(1.003,1)" font-size="37.5" font-weight="normal" text-anchor="start" >(Used After Code Date</text>
<text transform="translate(1110.9,1375.0) scale(1.003,1)" font-size="37.5" font-weight="normal" text-anchor="start" >03063000).</text>
<text transform="translate(1110.9,1422.2) scale(1.003,1)" font-size="37.5" font-weight="normal" text-anchor="start" >Used on Type No(s).</text>
<text transform="translate(1110.9,1469.3) scale(1.003,1)" font-size="37.5" font-weight="normal" text-anchor="start" >0037, 0042, 0121,</text>
<text transform="translate(1110.9,1516.5) scale(1.003,1)" font-size="37.5" font-weight="normal" text-anchor="start" >0242, 0547, 0567,</text>
<text transform="translate(1110.9,1563.7) scale(1.003,1)" font-size="37.5" font-weight="normal" text-anchor="start" >0606, 0609.</text>
<rect x="1113.4" y="1600.2" width="15.4" height="4.0"/>
<rect x="1134.3" y="1600.2" width="15.4" height="4.0"/>
<rect x="1155.2" y="1600.2" width="15.4" height="4.0"/>
<rect x="1176.1" y="1600.2" width="15.4" height="4.0"/>
<rect x="1197.0" y="1600.2" width="15.4" height="4.0"/>
<rect x="1217.9" y="1600.2" width="15.4" height="4.0"/>
<rect x="1238.8" y="1600.2" width="15.4" height="4.0"/>
<text transform="translate(1268.0,1610.8) scale(1.0,1)" font-size="37.5" font-weight="bold" text-anchor="start" >Note</text>
<rect x="1366.0" y="1600.2" width="15.4" height="4.0"/>
<rect x="1386.9" y="1600.2" width="15.4" height="4.0"/>
<rect x="1407.8" y="1600.2" width="15.4" height="4.0"/>
<rect x="1428.7" y="1600.2" width="15.4" height="4.0"/>
<rect x="1449.6" y="1600.2" width="15.4" height="4.0"/>
<text transform="translate(1109.9,1658.0) scale(1.003,1)" font-size="37.5" font-weight="bold" text-anchor="start" >711572</text>
<text transform="translate(1235.4,1658.0) scale(1.003,1)" font-size="37.5" font-weight="normal" text-anchor="start" > </text>
<text transform="translate(1245.9,1658.0) scale(1.003,1)" font-size="37.5" font-weight="normal" text-anchor="start" >Panel</text>
<rect x="1345.3" y="1647.4" width="14.2" height="2.6"/>
<text transform="translate(1363.3,1658.0) scale(1.003,1)" font-size="37.5" font-weight="normal" text-anchor="start" >Control</text>
<text transform="translate(1110.9,1705.1) scale(1.003,1)" font-size="37.5" font-weight="normal" text-anchor="start" >(Used Before Code</text>
<text transform="translate(1110.9,1752.3) scale(1.003,1)" font-size="37.5" font-weight="normal" text-anchor="start" >Date 03070100).</text>
<text transform="translate(1110.9,1799.5) scale(1.003,1)" font-size="37.5" font-weight="normal" text-anchor="start" >Used on Type No(s).</text>
<text transform="translate(1110.9,1846.6) scale(1.003,1)" font-size="37.5" font-weight="normal" text-anchor="start" >0037, 0042, 0121,</text>
<text transform="translate(1110.9,1893.8) scale(1.003,1)" font-size="37.5" font-weight="normal" text-anchor="start" >0242, 0547, 0567,</text>
<text transform="translate(1110.9,1940.9) scale(1.003,1)" font-size="37.5" font-weight="normal" text-anchor="start" >0606, 0609.</text>
<text transform="translate(1110.9,1988.1) scale(1.003,1)" font-size="37.5" font-weight="normal" text-anchor="start" >Switch</text>
<rect x="1224.9" y="1977.5" width="14.2" height="2.6"/>
<text transform="translate(1242.9,1988.1) scale(1.003,1)" font-size="37.5" font-weight="normal" text-anchor="start" >Rocker</text>
<text transform="translate(1110.9,2035.3) scale(1.003,1)" font-size="37.5" font-weight="normal" text-anchor="start" >(Without Light)</text>
<text transform="translate(1110.9,2082.4) scale(1.003,1)" font-size="37.5" font-weight="normal" text-anchor="start" >Switch</text>
<rect x="1224.9" y="2071.8" width="14.2" height="2.6"/>
<text transform="translate(1242.9,2082.4) scale(1.003,1)" font-size="37.5" font-weight="normal" text-anchor="start" >Rocker</text>
<text transform="translate(1110.9,2129.6) scale(1.003,1)" font-size="37.5" font-weight="normal" text-anchor="start" >(With Light)</text>
<text transform="translate(902.5,1280.7) scale(1.015,1)" font-size="37.5" font-weight="bold" text-anchor="end" >281A</text>
<text transform="translate(1088.0,1280.7) scale(1.015,1)" font-size="37.5" font-weight="bold" text-anchor="end" >711578</text>
<text transform="translate(902.5,1988.1) scale(1.015,1)" font-size="37.5" font-weight="bold" text-anchor="end" >347</text>
<text transform="translate(1088.0,1988.1) scale(1.015,1)" font-size="37.5" font-weight="bold" text-anchor="end" >691995</text>
<text transform="translate(902.5,2082.4) scale(1.015,1)" font-size="37.5" font-weight="bold" text-anchor="end" >347A</text>
<text transform="translate(1088.0,2082.4) scale(1.015,1)" font-size="37.5" font-weight="bold" text-anchor="end" >495098S</text>
<text transform="translate(1877.5,1280.4) scale(1.003,1)" font-size="37.5" font-weight="normal" text-anchor="start" >Wire</text>
<rect x="1958.0" y="1269.8" width="14.2" height="2.6"/>
<text transform="translate(1976.0,1280.4) scale(1.003,1)" font-size="37.5" font-weight="normal" text-anchor="start" >Stop</text>
<text transform="translate(1877.5,1325.4) scale(1.003,1)" font-size="37.5" font-weight="normal" text-anchor="start" >Screw</text>
<text transform="translate(1877.5,1370.4) scale(1.003,1)" font-size="37.5" font-weight="normal" text-anchor="start" >(Control Panel)</text>
<text transform="translate(1877.5,1415.4) scale(1.003,1)" font-size="37.5" font-weight="normal" text-anchor="start" >Screw</text>
<text transform="translate(1877.5,1460.4) scale(1.003,1)" font-size="37.5" font-weight="normal" text-anchor="start" >(Control Panel)</text>
<text transform="translate(1668.0,1280.4) scale(1.015,1)" font-size="37.5" font-weight="bold" text-anchor="end" >356</text>
<text transform="translate(1854.0,1280.4) scale(1.015,1)" font-size="37.5" font-weight="bold" text-anchor="end" >710120</text>
<text transform="translate(1668.0,1325.4) scale(1.015,1)" font-size="37.5" font-weight="bold" text-anchor="end" >663</text>
<text transform="translate(1854.0,1325.4) scale(1.015,1)" font-size="37.5" font-weight="bold" text-anchor="end" >710095</text>
<text transform="translate(1668.0,1415.4) scale(1.015,1)" font-size="37.5" font-weight="bold" text-anchor="end" >663A</text>
<text transform="translate(1854.0,1415.4) scale(1.015,1)" font-size="37.5" font-weight="bold" text-anchor="end" >710234</text>
<text transform="translate(41.5,239.0) scale(1.03,1)" font-size="49.6" font-weight="bold" text-anchor="start" >356</text>
<text transform="translate(66.5,412.0) scale(1.03,1)" font-size="49.6" font-weight="bold" text-anchor="start" >663A</text>
<text transform="translate(80.5,711.5) scale(1.03,1)" font-size="49.6" font-weight="bold" text-anchor="start" >281</text>
<text transform="translate(894.5,233.5) scale(1.03,1)" font-size="49.6" font-weight="bold" text-anchor="start" >663</text>
<text transform="translate(803.0,704.8) scale(1.03,1)" font-size="49.6" font-weight="bold" text-anchor="start" >347A</text>
<text transform="translate(599.0,809.0) scale(1.03,1)" font-size="49.6" font-weight="bold" text-anchor="start" >347</text>
<text transform="translate(1144.5,612.5) scale(1.03,1)" font-size="49.6" font-weight="bold" text-anchor="start" >663A</text>
<text transform="translate(1219.5,788.5) scale(1.03,1)" font-size="49.6" font-weight="bold" text-anchor="start" >281A</text>
<text transform="translate(2080.0,249.0) scale(1.03,1)" font-size="49.6" font-weight="bold" text-anchor="start" >663</text>
<text transform="matrix(0.8805 -0.4741 -0.1645 0.9868 833.2 520.7)" font-size="14" font-weight="bold">STOP</text>
</g>
</svg>
</body></html>
